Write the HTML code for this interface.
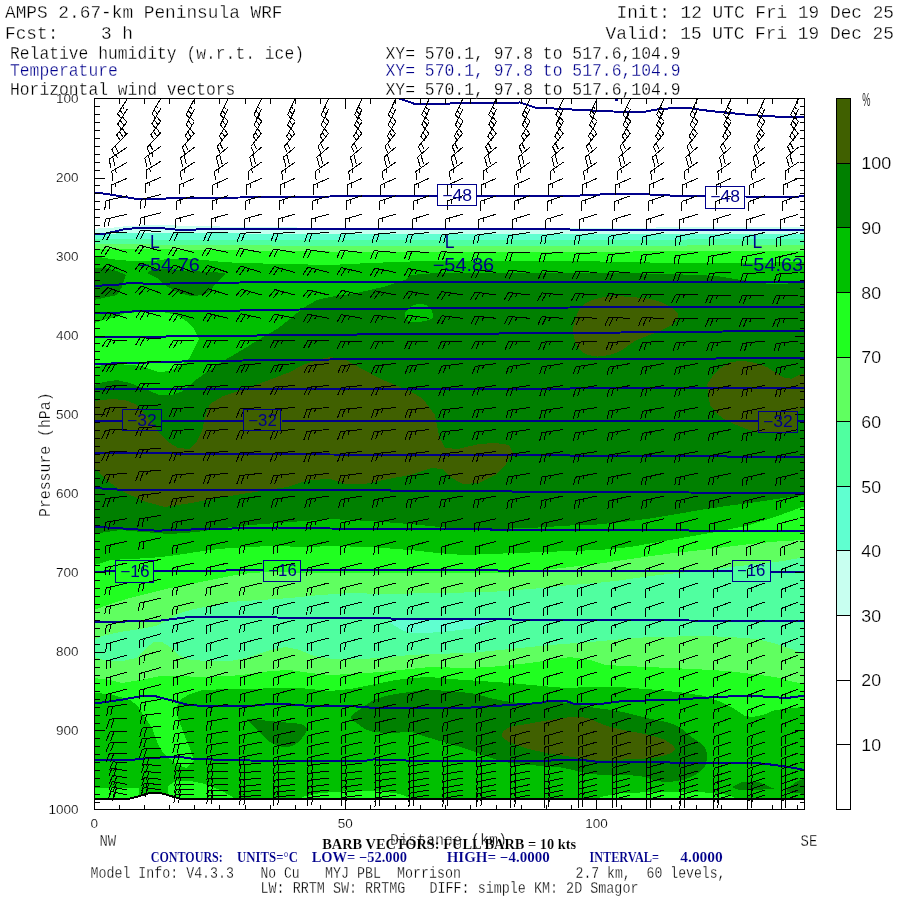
<!DOCTYPE html><html><head><meta charset="utf-8"><title>AMPS cross section</title>
<style>html,body{margin:0;padding:0;background:#fff}svg{display:block;will-change:transform}text{white-space:pre}</style></head><body>
<svg width="900" height="900" viewBox="0 0 900 900">
<rect width="900" height="900" fill="#fff"/>
<defs><clipPath id="pc"><rect x="94" y="98" width="711" height="711"/></clipPath>
<clipPath id="pt"><path d="M94.0,98.0 L94.0,798.5 L130.0,798.5 L138.0,796.5 L146.0,794.0 L152.0,792.5 L158.0,792.5 L166.0,794.5 L174.0,797.0 L180.0,798.5 L805.0,798.5 L805.0,98.0Z"/></clipPath></defs>
<g clip-path="url(#pt)" shape-rendering="crispEdges">
<path d="M94.0,228.7 L110.0,228.0 L127.0,226.0 L154.0,225.0 L200.0,226.0 L240.0,227.0 L330.0,227.8 L570.0,227.8 L805.0,227.0 L805.0,812.0 L94.0,812.0Z" fill="#c8fff0"/>
<path d="M94.0,234.5 L127.0,233.0 L154.0,233.0 L330.0,234.0 L570.0,234.0 L805.0,233.5 L805.0,812.0 L94.0,812.0Z" fill="#60ffd0"/>
<path d="M94.0,239.3 L154.0,239.5 L330.0,240.0 L570.0,240.0 L805.0,239.0 L805.0,812.0 L94.0,812.0Z" fill="#50ffa0"/>
<path d="M94.0,244.3 L154.0,244.5 L330.0,246.0 L570.0,246.0 L805.0,245.0 L805.0,812.0 L94.0,812.0Z" fill="#60ff60"/>
<path d="M94.0,640.0 L102.0,636.0 L120.0,632.0 L140.0,629.0 L156.0,626.0 L170.0,619.0 L180.0,613.0 L194.0,609.0 L210.0,606.0 L230.0,602.0 L260.0,600.0 L290.0,598.0 L320.0,595.0 L350.0,593.0 L383.0,594.0 L437.0,593.0 L490.0,592.0 L543.0,588.0 L570.0,585.0 L597.0,583.0 L623.0,580.0 L650.0,576.0 L677.0,573.0 L703.0,571.0 L730.0,567.0 L757.0,564.0 L783.0,561.0 L805.0,557.0 L805.0,652.0 L799.0,652.0 L789.0,648.0 L773.0,643.0 L757.0,639.0 L730.0,637.0 L703.0,636.0 L677.0,636.5 L650.0,637.0 L623.0,639.0 L590.0,642.0 L550.0,645.0 L510.0,649.0 L470.0,653.0 L430.0,654.0 L410.0,655.0 L380.0,658.0 L350.0,659.5 L330.0,658.5 L314.0,656.0 L300.0,650.0 L286.0,647.0 L270.0,650.0 L250.0,657.0 L230.0,661.0 L210.0,661.0 L190.0,660.0 L178.0,655.0 L170.0,647.0 L162.0,642.0 L154.0,642.0 L146.0,648.0 L136.0,658.0 L120.0,661.5 L104.0,660.0 L94.0,657.0Z" fill="#50ffa0"/>
<path d="M390.0,621.0 C392.2,619.8 402.2,620.3 410.0,620.0 C417.8,619.7 428.2,619.2 437.0,619.0 C445.8,618.8 454.2,618.7 463.0,619.0 C471.8,619.3 487.3,619.7 490.0,621.0 C492.7,622.3 485.7,625.3 479.0,627.0 C472.3,628.7 459.3,630.0 450.0,631.0 C440.7,632.0 430.2,632.8 423.0,633.0 C415.8,633.2 411.3,633.0 407.0,632.0 C402.7,631.0 399.8,628.8 397.0,627.0 C394.2,625.2 387.8,622.2 390.0,621.0Z" fill="#60ffd0"/>
<path d="M94.0,249.0 L154.0,249.3 L330.0,251.5 L570.0,251.7 L805.0,251.0 L805.0,540.0 L783.0,541.0 L750.0,544.0 L710.0,549.0 L670.0,553.5 L630.0,559.0 L600.0,563.5 L570.0,567.0 L540.0,570.5 L510.0,573.0 L450.0,572.5 L390.0,572.5 L350.0,572.5 L310.0,573.0 L270.0,572.0 L250.0,573.0 L230.0,576.0 L210.0,580.0 L190.0,584.0 L170.0,588.0 L150.0,593.0 L130.0,598.0 L110.0,604.0 L94.0,610.0Z" fill="#20ff20"/>
<path d="M94.0,678.0 L110.0,680.0 L122.0,683.0 L140.0,680.0 L160.0,676.0 L180.0,676.0 L200.0,677.0 L230.0,676.0 L250.0,674.0 L270.0,671.0 L290.0,670.0 L310.0,673.0 L330.0,675.0 L350.0,674.0 L380.0,672.0 L410.0,669.0 L430.0,667.0 L470.0,668.0 L490.0,667.0 L530.0,663.0 L570.0,657.0 L590.0,660.0 L605.0,665.0 L647.0,667.0 L693.0,669.0 L728.0,671.0 L752.0,674.0 L775.0,677.0 L794.0,682.0 L805.0,684.0 L805.0,812.0 L94.0,812.0Z" fill="#20ff20"/>
<path d="M94.0,255.7 L103.0,257.7 L120.0,260.3 L140.0,261.0 L154.0,261.0 L170.0,258.5 L190.0,258.5 L223.0,262.0 L240.0,263.0 L330.0,265.0 L370.0,263.0 L410.0,261.5 L490.0,260.5 L570.0,261.0 L600.0,261.5 L690.0,263.3 L760.0,263.0 L805.0,261.5 L805.0,506.0 L783.0,514.0 L750.0,525.0 L710.0,533.0 L670.0,540.0 L630.0,547.0 L600.0,550.0 L570.0,551.0 L543.0,552.0 L517.0,553.0 L490.0,554.0 L463.0,555.0 L437.0,553.0 L410.0,550.0 L370.0,547.0 L330.0,546.0 L310.0,547.0 L270.0,546.0 L250.0,547.0 L230.0,548.0 L210.0,550.0 L190.0,553.0 L170.0,556.0 L150.0,558.0 L130.0,559.0 L110.0,560.0 L102.0,563.0 L94.0,565.0Z" fill="#00c000"/>
<path d="M94.0,693.0 L110.0,694.0 L130.0,700.0 L138.0,706.0 L144.0,716.0 L152.0,728.0 L158.0,744.0 L164.0,754.0 L176.0,764.0 L186.0,768.0 L194.0,760.0 L190.0,748.0 L184.0,734.0 L178.0,718.0 L176.0,708.0 L180.0,700.0 L190.0,694.0 L202.0,690.0 L230.0,689.0 L250.0,689.5 L270.0,688.0 L300.0,688.0 L330.0,691.0 L350.0,689.0 L370.0,685.0 L390.0,681.0 L410.0,678.0 L430.0,677.0 L450.0,679.0 L480.0,681.0 L511.0,683.0 L542.0,686.0 L566.0,688.0 L589.0,687.0 L620.0,687.0 L658.0,690.0 L682.0,692.5 L705.0,696.0 L721.0,702.0 L733.0,708.0 L745.0,716.0 L752.0,717.0 L763.0,715.0 L775.0,710.0 L794.0,708.0 L805.0,706.5 L805.0,812.0 L94.0,812.0Z" fill="#00c000"/>
<path d="M94.0,323.0 L103.0,320.0 L117.0,317.0 L125.0,313.0 L143.0,312.0 L163.0,312.0 L177.0,315.0 L186.0,321.0 L194.0,329.0 L199.0,339.0 L194.0,349.0 L189.0,359.0 L181.0,365.0 L170.0,371.0 L159.0,372.0 L149.0,369.0 L141.0,366.0 L130.0,365.0 L117.0,364.0 L103.0,365.0 L94.0,367.0Z" fill="#20ff20"/>
<path d="M94.0,788.0 L120.0,788.0 L139.0,788.5 L139.0,800.0 L94.0,800.0Z" fill="#20ff20"/>
<path d="M168.0,786.0 L175.0,781.5 L190.0,781.0 L205.0,784.0 L220.0,790.0 L233.0,797.0 L233.0,800.0 L168.0,800.0Z" fill="#20ff20"/>
<path d="M302.0,797.0 L320.0,793.0 L350.0,791.0 L380.0,791.0 L400.0,794.0 L410.0,798.0 L302.0,800.0Z" fill="#20ff20"/>
<path d="M600.0,797.0 L620.0,793.0 L660.0,792.0 L700.0,792.0 L730.0,795.0 L735.0,798.0 L600.0,800.0Z" fill="#20ff20"/>
<path d="M94.0,385.0 L103.0,382.0 L117.0,380.0 L130.0,383.0 L143.0,388.0 L150.0,391.0 L159.0,395.0 L170.0,395.5 L181.0,392.0 L189.0,386.0 L197.0,379.0 L210.0,370.0 L223.0,361.0 L237.0,353.0 L250.0,345.0 L263.0,337.0 L277.0,329.0 L290.0,319.0 L303.0,308.0 L317.0,300.0 L330.0,297.0 L357.0,293.0 L383.0,287.0 L405.0,280.0 L410.0,275.0 L437.0,273.0 L490.0,273.0 L570.0,273.0 L623.0,273.0 L690.0,274.7 L717.0,276.0 L737.0,279.3 L770.0,284.0 L805.0,283.0 L805.0,495.0 L783.0,498.0 L757.0,502.0 L730.0,505.5 L703.0,509.5 L677.0,514.0 L650.0,518.5 L623.0,522.0 L597.0,524.5 L570.0,525.5 L530.0,528.0 L490.0,529.0 L450.0,528.0 L410.0,524.0 L370.0,521.0 L330.0,519.0 L303.0,521.0 L277.0,523.0 L250.0,525.0 L223.0,528.0 L197.0,532.0 L170.0,534.0 L143.0,532.0 L120.0,530.0 L106.0,532.0 L94.0,534.0Z" fill="#008000"/>
<path d="M94.0,267.7 L106.0,268.3 L117.0,271.0 L126.0,275.0 L122.0,287.0 L117.0,295.0 L103.0,298.0 L94.0,300.0Z" fill="#008000"/>
<path d="M147.5,272.5 C148.0,271.0 152.9,269.2 160.0,269.0 C167.1,268.8 179.5,270.3 190.0,271.0 C200.5,271.7 217.7,272.0 223.0,273.0 C228.3,274.0 223.7,274.7 222.0,277.0 C220.3,279.3 215.5,284.3 213.0,287.0 C210.5,289.7 210.3,291.5 207.0,293.0 C203.7,294.5 197.5,296.0 193.0,296.0 C188.5,296.0 184.2,294.5 180.0,293.0 C175.8,291.5 171.8,289.5 168.0,287.0 C164.2,284.5 160.4,280.4 157.0,278.0 C153.6,275.6 147.0,274.0 147.5,272.5Z" fill="#008000"/>
<path d="M405.0,313.0 C406.0,310.8 409.2,307.5 412.0,306.0 C414.8,304.5 419.0,303.7 422.0,304.0 C425.0,304.3 428.2,305.8 430.0,308.0 C431.8,310.2 433.8,314.8 433.0,317.0 C432.2,319.2 428.5,320.2 425.0,321.0 C421.5,321.8 415.2,322.3 412.0,322.0 C408.8,321.7 407.2,320.5 406.0,319.0 C404.8,317.5 404.0,315.2 405.0,313.0Z" fill="#00c000"/>
<path d="M248.0,719.0 C249.7,718.7 254.7,719.5 260.0,720.0 C265.3,720.5 273.3,721.3 280.0,722.0 C286.7,722.7 295.5,722.8 300.0,724.0 C304.5,725.2 306.7,726.7 307.0,729.0 C307.3,731.3 304.2,735.3 302.0,738.0 C299.8,740.7 297.0,743.5 294.0,745.0 C291.0,746.5 288.0,747.5 284.0,747.0 C280.0,746.5 274.0,744.5 270.0,742.0 C266.0,739.5 263.3,735.3 260.0,732.0 C256.7,728.7 252.0,724.2 250.0,722.0 C248.0,719.8 246.3,719.3 248.0,719.0Z" fill="#008000"/>
<path d="M351.0,717.0 C351.7,714.3 358.2,710.8 362.0,708.0 C365.8,705.2 369.3,702.2 374.0,700.0 C378.7,697.8 384.0,696.3 390.0,695.0 C396.0,693.7 403.3,692.8 410.0,692.0 C416.7,691.2 420.0,689.8 430.0,690.0 C440.0,690.2 460.0,691.7 470.0,693.0 C480.0,694.3 483.2,696.5 490.0,698.0 C496.8,699.5 504.8,701.1 511.0,702.0 C517.2,702.9 521.8,703.5 527.0,703.5 C532.2,703.5 536.8,702.2 542.0,702.0 C547.2,701.8 552.8,701.7 558.0,702.0 C563.2,702.3 567.8,703.2 573.0,704.0 C578.2,704.8 583.8,706.2 589.0,707.0 C594.2,707.8 598.3,708.2 604.0,709.0 C609.7,709.8 615.8,710.5 623.0,712.0 C630.2,713.5 639.2,716.2 647.0,718.0 C654.8,719.8 664.2,721.2 670.0,723.0 C675.8,724.8 678.2,726.5 682.0,729.0 C685.8,731.5 689.5,735.3 693.0,738.0 C696.5,740.7 700.7,742.3 703.0,745.0 C705.3,747.7 706.7,750.5 707.0,754.0 C707.3,757.5 706.5,762.8 705.0,766.0 C703.5,769.2 700.7,771.0 698.0,773.0 C695.3,775.0 692.5,776.7 689.0,778.0 C685.5,779.3 681.0,780.3 677.0,781.0 C673.0,781.7 668.8,782.2 665.0,782.0 C661.2,781.8 657.8,780.9 654.0,780.0 C650.2,779.1 647.2,777.3 642.0,776.5 C636.8,775.7 629.3,775.2 623.0,775.0 C616.7,774.8 609.7,775.2 604.0,775.0 C598.3,774.8 594.2,774.3 589.0,773.5 C583.8,772.7 578.2,771.1 573.0,770.0 C567.8,768.9 563.2,767.7 558.0,767.0 C552.8,766.3 549.8,766.7 542.0,766.0 C534.2,765.3 518.7,764.1 511.0,763.0 C503.3,761.9 501.2,761.0 496.0,759.5 C490.8,758.0 484.3,755.6 480.0,754.0 C475.7,752.4 475.0,751.7 470.0,750.0 C465.0,748.3 456.7,746.0 450.0,744.0 C443.3,742.0 435.0,739.5 430.0,738.0 C425.0,736.5 423.3,736.0 420.0,735.0 C416.7,734.0 415.0,732.3 410.0,732.0 C405.0,731.7 396.7,733.2 390.0,733.0 C383.3,732.8 375.3,732.5 370.0,731.0 C364.7,729.5 361.2,726.3 358.0,724.0 C354.8,721.7 350.3,719.7 351.0,717.0Z" fill="#008000"/>
<path d="M732.0,787.0 L742.0,782.0 L759.0,782.0 L768.0,786.0 L775.0,789.0 L740.0,790.5Z" fill="#008000"/>
<path d="M787.0,789.0 L796.0,782.0 L805.0,778.0 L805.0,794.0 L787.0,792.0Z" fill="#008000"/>
<path d="M94.0,401.0 L111.0,399.0 L125.0,400.0 L135.0,404.0 L143.0,412.0 L154.0,425.0 L159.0,433.0 L167.0,441.0 L178.0,448.0 L189.0,449.0 L197.0,441.0 L202.0,431.0 L205.0,417.0 L210.0,404.0 L223.0,396.0 L239.0,391.0 L261.0,383.0 L277.0,377.0 L290.0,372.0 L303.0,365.0 L317.0,360.0 L330.0,357.0 L346.0,360.0 L362.0,369.0 L383.0,380.0 L410.0,391.0 L423.0,399.0 L435.0,415.0 L438.0,431.0 L441.0,440.0 L445.0,448.0 L458.0,449.0 L479.0,444.0 L495.0,443.0 L509.0,445.0 L513.0,453.0 L506.0,464.0 L495.0,475.0 L479.0,483.0 L463.0,484.0 L450.0,477.0 L442.0,469.0 L431.0,468.0 L410.0,475.0 L383.0,480.0 L365.0,484.0 L346.0,484.0 L330.0,479.0 L309.0,480.0 L287.0,487.0 L255.0,492.0 L223.0,497.0 L191.0,503.0 L165.0,507.0 L143.0,501.0 L122.0,491.0 L106.0,480.0 L94.0,467.0Z" fill="#406000"/>
<path d="M574.0,324.0 C575.5,318.7 577.8,309.5 583.0,305.0 C588.2,300.5 597.0,298.3 605.0,297.0 C613.0,295.7 622.2,296.3 631.0,297.0 C639.8,297.7 650.3,298.5 658.0,301.0 C665.7,303.5 674.3,308.3 677.0,312.0 C679.7,315.7 677.2,319.7 674.0,323.0 C670.8,326.3 664.2,329.2 658.0,332.0 C651.8,334.8 643.7,336.7 637.0,340.0 C630.3,343.3 624.7,349.2 618.0,352.0 C611.3,354.8 603.2,356.7 597.0,356.5 C590.8,356.3 584.8,354.2 581.0,351.0 C577.2,347.8 575.2,341.5 574.0,337.0 C572.8,332.5 572.5,329.3 574.0,324.0Z" fill="#406000"/>
<path d="M707.3,384.0 L712.7,376.0 L720.7,368.0 L731.3,362.0 L743.3,360.7 L756.7,363.3 L767.3,367.3 L776.7,373.3 L783.3,377.3 L791.3,378.7 L799.3,374.7 L805.0,374.0 L805.0,406.7 L799.3,410.7 L796.7,414.7 L796.7,430.7 L791.3,432.0 L776.7,432.7 L759.3,432.0 L747.3,429.3 L734.0,424.0 L723.3,418.7 L716.7,413.3 L710.0,405.3 L708.7,396.0Z" fill="#406000"/>
<path d="M502.0,737.0 C500.2,734.0 503.8,730.2 508.0,728.0 C512.2,725.8 520.0,725.3 527.0,724.0 C534.0,722.7 542.3,721.2 550.0,720.0 C557.7,718.8 566.5,717.2 573.0,717.0 C579.5,716.8 583.8,717.2 589.0,718.5 C594.2,719.8 598.3,723.1 604.0,725.0 C609.7,726.9 615.8,728.4 623.0,730.0 C630.2,731.6 640.0,732.8 647.0,734.5 C654.0,736.2 660.3,737.4 665.0,740.0 C669.7,742.6 676.2,747.2 675.0,750.0 C673.8,752.8 664.7,755.5 658.0,757.0 C651.3,758.5 644.0,758.5 635.0,759.0 C626.0,759.5 611.7,759.9 604.0,760.0 C596.3,760.1 594.2,760.0 589.0,759.5 C583.8,759.0 578.2,757.8 573.0,757.0 C567.8,756.2 563.2,755.8 558.0,755.0 C552.8,754.2 548.5,753.5 542.0,752.0 C535.5,750.5 525.7,748.5 519.0,746.0 C512.3,743.5 503.8,740.0 502.0,737.0Z" fill="#406000"/>
</g>
<g clip-path="url(#pc)" fill="none" stroke="#00008b" stroke-width="2" shape-rendering="crispEdges">
<path d="M614.5,99.5 L618.0,99.5"/>
<path d="M395.0,97.0 L415.0,104.0 L520.0,102.5 L535.0,107.5 L600.0,111.0 L640.0,112.5 L660.0,109.0 L685.0,107.5 L710.0,111.0 L750.0,115.0 L775.0,116.5 L805.0,116.5"/>
<path d="M94.0,192.5 L107.0,194.0 L123.0,196.7 L135.0,198.7 L157.0,198.7 L190.0,198.0 L240.0,197.5 L330.0,196.5 L390.0,196.0 L437.0,196.0"/>
<path d="M476.0,196.0 L560.0,196.5 L600.0,194.5 L640.0,194.0 L680.0,196.0 L705.0,196.5"/>
<path d="M744.0,196.5 L790.0,196.8 L805.0,196.3"/>
<path d="M94.0,234.0 L104.0,234.0 L114.0,231.7 L124.0,229.3 L140.7,227.7 L160.0,228.0 L177.0,229.7 L207.0,229.4 L240.0,229.0 L330.0,229.0 L570.0,229.5 L805.0,229.5"/>
<path d="M94.0,285.8 L115.0,285.0 L128.0,283.3 L157.0,283.7 L240.0,282.5 L330.0,282.0 L570.0,281.7 L805.0,281.7"/>
<path d="M94.0,313.3 L120.0,312.5 L140.0,310.8 L240.0,310.5 L330.0,309.0 L570.0,307.5 L805.0,306.7"/>
<path d="M94.0,337.3 L330.0,334.7 L570.0,333.0 L805.0,330.7"/>
<path d="M94.0,364.0 L200.0,361.0 L330.0,359.5 L570.0,359.0 L700.0,358.7 L805.0,357.5"/>
<path d="M94.0,389.0 L330.0,388.5 L570.0,388.5 L805.0,387.5"/>
<path d="M94.0,420.5 L122.0,420.5"/>
<path d="M161.0,420.5 L244.0,420.5"/>
<path d="M282.0,420.5 L570.0,420.5 L758.0,421.0"/>
<path d="M797.0,421.0 L805.0,421.0"/>
<path d="M94.0,453.0 L330.0,454.5 L570.0,455.5 L805.0,457.0"/>
<path d="M94.0,488.0 L125.0,490.0 L330.0,490.0 L570.0,492.0 L805.0,493.0"/>
<path d="M94.0,526.7 L157.0,530.7 L197.0,529.3 L277.0,527.5 L330.0,528.5 L570.0,530.0 L805.0,531.0"/>
<path d="M94.0,572.0 L115.0,571.0"/>
<path d="M153.5,571.5 L263.0,570.0"/>
<path d="M300.7,570.0 L570.0,570.7 L732.0,571.5"/>
<path d="M769.5,572.0 L805.0,572.0"/>
<path d="M94.0,622.0 L157.0,621.0 L189.0,617.0 L223.0,617.0 L330.0,618.0 L570.0,620.0 L805.0,621.0"/>
<path d="M94.0,703.6 L120.0,700.0 L142.0,696.0 L156.0,696.4 L170.0,700.0 L186.0,704.4 L206.0,706.4 L250.0,706.0 L270.0,704.0 L290.0,704.4 L310.0,706.0 L350.0,706.0 L370.0,707.6 L430.0,708.0 L470.0,707.6 L510.0,705.0 L540.0,703.0 L550.0,700.6 L566.0,701.0 L576.0,704.4 L600.0,704.0 L623.0,701.0 L670.0,700.0 L717.0,697.0 L740.0,696.0 L763.0,696.5 L787.0,698.0 L805.0,695.5"/>
<path d="M94.0,760.0 L130.0,760.0 L150.0,758.0 L178.0,756.6 L194.0,759.0 L250.0,760.5 L300.0,761.4 L330.0,760.6 L366.0,760.6 L374.0,759.4 L382.0,760.0 L430.0,761.0 L550.0,760.6 L560.0,759.6 L580.0,759.6 L590.0,761.0 L600.0,762.0 L670.0,762.5 L752.0,762.5 L775.0,765.0 L794.0,768.0 L805.0,770.0"/>
</g>
<g clip-path="url(#pc)" fill="none" stroke="#000" stroke-width="1" shape-rendering="crispEdges">
<path d="M127.3,98.9L117.6,113.9M117.6,113.9l4.0,5.0M120.0,110.2l4.0,5.0M122.4,106.5l1.8,2.2M127.3,109.1L117.6,124.1M117.6,124.1l4.0,5.0M120.0,120.4l4.0,5.0M122.4,116.7l4.0,5.0M127.3,121.7L116.6,135.0M116.6,135.0l3.7,5.5M119.4,131.6l3.7,5.5M122.1,128.1l3.7,5.5M127.3,133.3L111.9,149.3M111.9,149.3l2.7,5.7M115.0,146.1l2.7,5.7M127.3,147.2L109.0,159.4M109.0,159.4l2.2,9.0M112.7,157.0l2.2,9.0M116.3,154.5l1.0,4.0M127.3,162.2L111.8,171.1M111.8,171.1l1.0,9.4M115.6,168.9l0.5,4.2M127.3,178.3L111.3,185.0M111.3,185.0l0.0,9.0M115.4,183.3l0.0,4.0M127.3,195.8L105.6,200.8M105.6,200.8l-0.8,9.2M109.9,199.8l-0.8,9.2M127.3,214.2L105.6,219.2M105.6,219.2l-1.7,8.0M109.9,218.2l-1.7,8.0M127.3,232.5L106.5,232.0M106.5,232.0l-4.2,8.0M110.9,232.1l-4.2,8.0M127.3,252.5L106.0,246.2M106.0,246.2l-5.0,7.3M110.2,247.4l-5.0,7.3M127.3,272.5L107.0,264.0M107.0,264.0l-6.0,7.3M111.1,265.7l-6.0,7.3M115.1,267.4l-2.7,3.3M127.3,295.0L108.1,287.5M108.1,287.5l-6.7,6.7M112.2,289.1l-6.7,6.7M116.3,290.7l-3.0,3.0M127.3,318.3L107.3,312.3M107.3,312.3l-5.0,7.5M111.5,313.6l-5.0,7.5M115.7,314.8l-2.2,3.4M127.3,341.0L106.6,339.7M106.6,339.7l-4.5,7.3M111.0,340.0l-4.5,7.3M115.4,340.3l-2.0,3.3M127.3,363.5L106.6,364.5M106.6,364.5l-4.6,7.6M111.0,364.3l-4.6,7.6M115.4,364.1l-4.6,7.6M127.3,385.5L106.6,386.2M106.6,386.2l-4.7,8.0M111.0,386.1l-4.7,8.0M115.4,385.9l-2.1,3.6M127.3,407.5L105.6,408.1M105.6,408.1l-3.9,8.9M110.0,408.0l-3.9,8.9M114.4,407.9l-1.8,4.0M127.3,429.5L105.6,430.1M105.6,430.1l-3.9,8.9M110.0,430.0l-3.9,8.9M114.4,429.9l-1.8,4.0M127.3,451.5L105.6,452.1M105.6,452.1l-3.9,8.9M110.0,452.0l-3.9,8.9M114.4,451.9l-1.8,4.0M127.3,473.3L105.6,474.8M105.6,474.8l-3.5,8.9M110.0,474.5l-3.5,8.9M114.4,474.2l-1.6,4.0M127.3,496.0L105.8,498.5M105.8,498.5l-3.0,8.7M110.2,498.0l-3.0,8.7M114.5,497.5l-1.4,3.9M127.3,518.7L106.0,522.2M106.0,522.2l-2.0,8.5M110.3,521.5l-2.0,8.5M114.7,520.8l-0.9,3.8M127.3,541.3L106.0,545.8M106.0,545.8l-1.0,8.0M110.3,544.9l-1.0,8.0M127.3,563.0L106.0,567.5M106.0,567.5l-1.0,8.0M110.3,566.6l-1.0,8.0M127.3,583.0L106.3,588.0M106.3,588.0l-1.5,7.5M110.6,587.0l-1.5,7.5M127.3,602.0L106.3,607.0M106.3,607.0l-1.5,7.5M110.6,606.0l-1.5,7.5M127.3,620.0L106.3,625.5M106.3,625.5l-1.0,8.0M110.6,624.4l-1.0,8.0M127.3,638.0L106.3,644.0M106.3,644.0l-0.5,8.0M110.5,642.8l-0.5,8.0M127.3,655.0L106.3,661.0M106.3,661.0l0.0,8.0M110.5,659.8l0.0,8.0M127.3,672.0L106.3,678.0M106.3,678.0l0.0,8.0M110.5,676.8l0.0,8.0M127.3,689.0L106.3,694.5M106.3,694.5l-0.5,8.5M110.6,693.4l-0.5,8.5M127.3,704.0L108.3,707.0M108.3,707.0l-1.8,9.2M112.6,706.3l-1.8,9.2M127.3,718.0L109.6,719.2M109.6,719.2l-3.0,9.5M114.0,718.9l-3.0,9.5M127.3,731.0L109.6,732.0M109.6,732.0l-3.3,9.3M114.0,731.8l-3.3,9.3M127.3,742.0L109.6,742.6M109.6,742.6l-3.5,9.0M114.0,742.5l-3.5,9.0M127.3,753.0L109.6,753.0M109.6,753.0l-3.5,9.0M114.0,753.0l-3.5,9.0M127.3,763.0L112.8,761.8M112.8,761.8l-3.4,8.6M117.2,762.2l-3.4,8.6M127.3,771.0L112.0,768.0M112.0,768.0l-3.3,8.5M116.3,768.8l-3.3,8.5M127.3,778.0L112.6,775.4M112.6,775.4l-3.3,8.5M116.9,776.2l-3.3,8.5M127.3,784.5L112.3,781.5M112.3,781.5l-3.3,8.5M116.6,782.4l-3.3,8.5M127.3,790.0L112.3,787.0M112.3,787.0l-3.3,8.5M116.6,787.9l-3.3,8.5M127.3,795.0L111.3,791.5M111.3,791.5l-3.3,8.5M115.6,792.4l-3.3,8.5M160.8,98.4L151.9,113.7M151.9,113.7l4.0,4.8M154.1,109.9l4.0,4.8M156.3,106.1l1.8,2.2M160.8,108.5L151.9,123.8M151.9,123.8l4.0,4.8M154.1,120.0l4.0,4.8M156.3,116.2l4.0,4.8M160.8,121.1L150.9,134.8M150.9,134.8l3.7,5.3M153.5,131.2l3.7,5.3M156.1,127.6l3.7,5.3M160.8,132.6L147.0,147.7M147.0,147.7l2.8,5.8M150.0,144.4l2.8,5.8M160.8,146.4L144.8,157.8M144.8,157.8l2.3,9.2M148.3,155.3l2.3,9.2M151.9,152.7l1.0,4.1M160.8,161.3L146.1,170.3M146.1,170.3l0.9,9.1M149.8,168.0l0.4,4.1M160.8,177.3L145.2,184.0M145.2,184.0l0.0,9.2M149.2,182.2l0.0,4.1M160.8,194.6L141.1,199.6M141.1,199.6l-0.5,9.3M145.4,198.6l-0.5,9.3M160.8,212.9L140.8,217.8M140.8,217.8l-1.1,8.5M145.1,216.7l-1.1,8.5M160.8,231.1L140.0,230.9M140.0,230.9l-4.0,8.0M144.4,230.9l-4.0,8.0M160.8,251.0L139.5,245.2M139.5,245.2l-4.8,7.4M143.7,246.4l-4.8,7.4M160.8,270.8L140.5,262.8M140.5,262.8l-5.8,7.3M144.6,264.4l-5.8,7.3M148.7,266.0l-2.6,3.3M160.8,293.2L141.5,286.1M141.5,286.1l-6.5,6.8M145.6,287.6l-6.5,6.8M149.7,289.1l-2.9,3.1M160.8,316.3L140.7,310.6M140.7,310.6l-4.9,7.5M145.0,311.8l-4.9,7.5M149.2,313.0l-2.2,3.4M160.8,338.8L140.1,337.7M140.1,337.7l-4.4,7.3M144.5,338.0l-4.4,7.3M148.9,338.2l-2.0,3.3M160.8,361.2L140.1,362.4M140.1,362.4l-4.4,7.6M144.5,362.1l-4.4,7.6M148.9,361.9l-4.4,7.6M160.8,383.0L140.1,383.9M140.1,383.9l-4.5,8.0M144.5,383.7l-4.5,8.0M148.9,383.6l-2.0,3.6M160.8,404.9L139.2,405.7M139.2,405.7l-3.8,8.8M143.6,405.5l-3.8,8.8M148.0,405.4l-1.7,4.0M160.8,426.7L139.2,427.5M139.2,427.5l-3.8,8.8M143.6,427.4l-3.8,8.8M148.0,427.2l-1.7,4.0M160.8,448.6L139.2,449.4M139.2,449.4l-3.8,8.8M143.6,449.2l-3.8,8.8M148.0,449.1l-1.7,4.0M160.8,470.2L139.2,471.9M139.2,471.9l-3.4,8.8M143.5,471.6l-3.4,8.8M147.9,471.2l-1.5,4.0M160.8,492.8L139.3,495.4M139.3,495.4l-2.9,8.7M143.7,494.9l-2.9,8.7M148.1,494.4l-1.3,3.9M160.8,515.3L139.5,518.9M139.5,518.9l-1.9,8.5M143.9,518.2l-1.9,8.5M148.2,517.5l-0.9,3.8M160.8,537.8L139.6,542.4M139.6,542.4l-1.0,8.0M143.9,541.4l-1.0,8.0M160.8,559.3L139.6,563.9M139.6,563.9l-1.0,8.0M143.9,563.0l-1.0,8.0M160.8,579.2L139.8,584.2M139.8,584.2l-1.4,7.5M144.1,583.2l-1.4,7.5M160.8,598.1L139.8,603.1M139.8,603.1l-1.4,7.5M144.1,602.1l-1.4,7.5M160.8,615.9L139.8,621.4M139.8,621.4l-1.0,8.0M144.1,620.3l-1.0,8.0M160.8,633.8L139.8,639.8M139.8,639.8l-0.5,8.0M144.1,638.6l-0.5,8.0M160.8,650.7L139.8,656.6M139.8,656.6l-0.1,8.0M144.1,655.4l-0.1,8.0M160.8,667.6L139.8,673.5M139.8,673.5l-0.1,8.0M144.1,672.3l-0.1,8.0M160.8,684.5L139.8,690.0M139.8,690.0l-0.5,8.5M144.1,688.8l-0.5,8.5M160.8,699.4L141.2,702.7M141.2,702.7l-1.5,9.0M145.6,702.0l-1.5,9.0M160.8,713.3L142.2,715.3M142.2,715.3l-2.4,9.2M146.6,714.8l-2.4,9.2M160.8,726.2L142.2,728.1M142.2,728.1l-2.6,9.1M146.6,727.6l-2.6,9.1M160.8,737.1L142.2,738.7M142.2,738.7l-2.8,8.9M146.6,738.3l-2.8,8.9M160.8,748.0L142.2,749.1M142.2,749.1l-2.8,8.9M146.6,748.9l-2.8,8.9M160.8,758.0L144.7,757.6M144.7,757.6l-2.8,8.6M149.1,757.7l-2.8,8.6M160.8,765.9L144.1,764.2M144.1,764.2l-2.7,8.5M148.5,764.6l-2.7,8.5M160.8,772.9L144.6,771.4M144.6,771.4l-2.7,8.5M149.0,771.8l-2.7,8.5M160.8,779.3L144.3,777.6M144.3,777.6l-2.7,8.5M148.7,778.0l-2.7,8.5M160.8,784.8L144.3,783.0M144.3,783.0l-2.7,8.5M148.7,783.5l-2.7,8.5M160.8,789.7L143.6,787.6M143.6,787.6l-2.7,8.5M148.0,788.1l-2.7,8.5M194.4,98.9L186.2,114.4M186.2,114.4l4.0,4.7M188.2,110.5l4.0,4.7M190.3,106.7l1.8,2.1M194.4,109.1L186.2,124.6M186.2,124.6l4.0,4.7M188.2,120.7l4.0,4.7M190.3,116.9l4.0,4.7M194.4,121.7L185.2,135.8M185.2,135.8l3.7,5.2M187.6,132.1l3.7,5.2M190.0,128.4l3.7,5.2M194.4,133.3L182.1,147.5M182.1,147.5l2.9,5.9M185.0,144.2l2.9,5.9M194.4,147.2L180.5,157.9M180.5,157.9l2.4,9.3M184.0,155.2l2.4,9.3M194.4,162.2L180.4,171.3M180.4,171.3l0.9,8.8M184.1,168.9l0.4,4.0M194.4,178.3L179.1,185.0M179.1,185.0l0.0,9.3M183.1,183.2l0.0,4.2M194.4,195.8L176.6,200.8M176.6,200.8l-0.3,9.4M180.9,199.6l-0.1,4.2M194.4,214.2L176.0,218.9M176.0,218.9l-0.6,9.0M180.3,217.8l-0.3,4.0M194.4,232.5L173.5,232.6M173.5,232.6l-3.8,8.1M177.9,232.6l-3.8,8.1M194.4,252.5L173.0,247.3M173.0,247.3l-4.6,7.5M177.3,248.4l-4.6,7.5M194.4,272.5L174.0,265.0M174.0,265.0l-5.7,7.4M178.1,266.5l-5.7,7.4M182.2,268.0l-2.5,3.3M194.4,295.0L174.9,288.3M174.9,288.3l-6.4,6.9M179.0,289.8l-6.4,6.9M183.2,291.2l-2.9,3.1M194.4,318.3L174.1,313.0M174.1,313.0l-4.8,7.6M178.4,314.1l-4.8,7.6M182.7,315.2l-2.2,3.4M194.4,341.0L173.6,340.1M173.6,340.1l-4.3,7.4M178.0,340.3l-4.3,7.4M182.4,340.5l-1.9,3.3M194.4,363.5L173.6,364.9M173.6,364.9l-4.3,7.6M178.0,364.6l-4.3,7.6M182.4,364.3l-4.3,7.6M194.4,385.5L173.6,386.6M173.6,386.6l-4.4,8.0M178.0,386.4l-4.4,8.0M182.4,386.1l-2.0,3.6M194.4,407.5L172.7,408.5M172.7,408.5l-3.6,8.8M177.1,408.3l-3.6,8.8M181.5,408.1l-1.6,3.9M194.4,429.5L172.7,430.5M172.7,430.5l-3.6,8.8M177.1,430.3l-3.6,8.8M181.5,430.1l-1.6,3.9M194.4,451.5L172.7,452.5M172.7,452.5l-3.6,8.8M177.1,452.3l-3.6,8.8M181.5,452.1l-1.6,3.9M194.4,473.3L172.7,475.2M172.7,475.2l-3.2,8.8M177.1,474.8l-3.2,8.8M181.5,474.4l-1.5,3.9M194.4,496.0L172.9,498.8M172.9,498.8l-2.8,8.6M177.3,498.2l-2.8,8.6M181.6,497.7l-1.2,3.9M194.4,518.7L173.1,522.4M173.1,522.4l-1.8,8.5M177.4,521.6l-1.8,8.5M181.8,520.9l-0.8,3.8M194.4,541.3L173.1,546.0M173.1,546.0l-0.9,8.0M177.4,545.1l-0.9,8.0M194.4,563.0L173.1,567.7M173.1,567.7l-0.9,8.0M177.4,566.8l-0.9,8.0M194.4,583.0L173.4,588.1M173.4,588.1l-1.3,7.6M177.6,587.1l-1.3,7.6M194.4,602.0L173.4,607.1M173.4,607.1l-1.3,7.6M177.6,606.1l-1.3,7.6M194.4,620.0L173.4,625.5M173.4,625.5l-0.9,8.0M177.6,624.4l-0.9,8.0M194.4,638.0L173.4,643.9M173.4,643.9l-0.5,8.0M177.6,642.7l-0.5,8.0M194.4,655.0L173.4,660.9M173.4,660.9l-0.1,8.0M177.6,659.7l-0.1,8.0M194.4,672.0L173.4,677.9M173.4,677.9l-0.1,8.0M177.6,676.7l-0.1,8.0M194.4,689.0L173.4,694.5M173.4,694.5l-0.5,8.4M177.6,693.4l-0.5,8.4M194.4,704.0L174.1,707.8M174.1,707.8l-1.1,8.8M178.5,706.9l-1.1,8.8M194.4,718.0L174.8,720.9M174.8,720.9l-1.8,9.0M179.2,720.2l-1.8,9.0M194.4,731.0L174.8,733.8M174.8,733.8l-1.9,8.9M179.2,733.1l-1.9,8.9M194.4,742.0L174.8,744.5M174.8,744.5l-2.0,8.8M179.2,744.0l-2.0,8.8M194.4,753.0L174.8,755.2M174.8,755.2l-2.0,8.8M179.2,754.7l-2.0,8.8M194.4,763.0L176.6,763.4M176.6,763.4l-2.2,8.6M181.0,763.3l-2.2,8.6M194.4,771.0L176.2,770.5M176.2,770.5l-2.1,8.5M180.6,770.6l-2.1,8.5M194.4,778.0L176.5,777.7M176.5,777.7l-2.1,8.5M180.9,777.8l-2.1,8.5M194.4,784.5L176.4,784.0M176.4,784.0l-2.1,8.5M180.8,784.1l-2.1,8.5M194.4,790.0L176.4,789.5M176.4,789.5l-2.1,8.5M180.8,789.6l-2.1,8.5M194.4,795.0L175.9,794.2M175.9,794.2l-2.1,8.5M180.3,794.4l-2.1,8.5M227.9,98.9L220.4,114.7M220.4,114.7l4.0,4.5M222.3,110.7l4.0,4.5M224.2,106.8l1.8,2.0M227.9,109.1L220.4,124.9M220.4,124.9l4.0,4.5M222.3,120.9l4.0,4.5M224.2,117.0l4.0,4.5M227.9,121.7L219.4,136.2M219.4,136.2l3.7,5.0M221.7,132.4l3.7,5.0M223.9,128.6l3.7,5.0M227.9,133.3L217.1,146.6M217.1,146.6l3.0,6.0M219.9,143.2l3.0,6.0M227.9,147.2L216.2,157.2M216.2,157.2l2.5,9.5M219.6,154.3l2.5,9.5M227.9,162.2L214.6,171.4M214.6,171.4l0.8,8.5M218.3,168.9l0.4,3.8M227.9,178.3L212.9,185.0M212.9,185.0l0.0,9.5M217.0,183.2l0.0,4.3M227.9,195.8L212.1,200.8M212.1,200.8l0.0,9.5M216.3,199.5l0.0,4.3M227.9,214.2L211.2,218.7M211.2,218.7l0.0,9.5M215.5,217.6l0.0,4.3M227.9,232.5L207.0,232.9M207.0,232.9l-3.6,8.2M211.4,232.8l-3.6,8.2M227.9,252.5L206.5,247.9M206.5,247.9l-4.4,7.6M210.8,248.8l-4.4,7.6M227.9,272.5L207.4,265.5M207.4,265.5l-5.5,7.5M211.6,266.9l-5.5,7.5M215.8,268.4l-2.5,3.4M227.9,295.0L208.3,288.7M208.3,288.7l-6.2,6.9M212.4,290.1l-6.2,6.9M216.6,291.4l-2.8,3.1M227.9,318.3L207.6,313.3M207.6,313.3l-4.7,7.6M211.8,314.4l-4.7,7.6M216.1,315.4l-2.1,3.4M227.9,341.0L207.1,340.3M207.1,340.3l-4.2,7.4M211.5,340.4l-4.2,7.4M215.8,340.6l-1.9,3.3M227.9,363.5L207.1,365.0M207.1,365.0l-4.1,7.6M211.5,364.7l-4.1,7.6M215.9,364.4l-4.1,7.6M227.9,385.5L207.1,386.8M207.1,386.8l-4.2,7.9M211.5,386.5l-4.2,7.9M215.9,386.2l-1.9,3.6M227.9,407.5L206.3,408.7M206.3,408.7l-3.5,8.7M210.7,408.4l-3.5,8.7M215.1,408.2l-1.6,3.9M227.9,429.5L206.3,430.7M206.3,430.7l-3.5,8.7M210.7,430.4l-3.5,8.7M215.1,430.2l-1.6,3.9M227.9,451.5L206.3,452.7M206.3,452.7l-3.5,8.7M210.7,452.4l-3.5,8.7M215.1,452.2l-1.6,3.9M227.9,473.3L206.3,475.3M206.3,475.3l-3.1,8.7M210.7,474.9l-3.1,8.7M215.0,474.5l-1.4,3.9M227.9,496.0L206.4,498.9M206.4,498.9l-2.6,8.6M210.8,498.4l-2.6,8.6M215.2,497.8l-1.2,3.9M227.9,518.7L206.6,522.5M206.6,522.5l-1.7,8.4M211.0,521.7l-1.7,8.4M215.3,521.0l-0.8,3.8M227.9,541.3L206.7,546.1M206.7,546.1l-0.8,8.0M211.0,545.1l-0.8,8.0M227.9,563.0L206.7,567.8M206.7,567.8l-0.8,8.0M211.0,566.8l-0.8,8.0M227.9,583.0L206.9,588.1M206.9,588.1l-1.2,7.7M211.2,587.1l-1.2,7.7M227.9,602.0L206.9,607.1M206.9,607.1l-1.2,7.7M211.2,606.1l-1.2,7.7M227.9,620.0L206.9,625.5M206.9,625.5l-0.8,8.0M211.1,624.4l-0.8,8.0M227.9,638.0L206.9,643.9M206.9,643.9l-0.5,8.0M211.1,642.7l-0.5,8.0M227.9,655.0L206.9,660.9M206.9,660.9l-0.1,8.0M211.1,659.7l-0.1,8.0M227.9,672.0L206.9,677.9M206.9,677.9l-0.1,8.0M211.1,676.7l-0.1,8.0M227.9,689.0L206.9,694.5M206.9,694.5l-0.5,8.3M211.1,693.4l-0.5,8.3M227.9,704.0L207.1,708.1M207.1,708.1l-0.8,8.7M211.4,707.3l-0.8,8.7M227.9,718.0L207.4,721.7M207.4,721.7l-1.1,8.8M211.7,720.9l-1.1,8.8M227.9,731.0L207.4,734.6M207.4,734.6l-1.2,8.7M211.7,733.9l-1.2,8.7M227.9,742.0L207.4,745.5M207.4,745.5l-1.2,8.6M211.7,744.8l-1.2,8.6M227.9,753.0L207.4,756.4M207.4,756.4l-1.2,8.6M211.7,755.7l-1.2,8.6M227.9,763.0L208.6,764.2M208.6,764.2l-1.6,8.5M213.0,763.9l-1.6,8.5M227.9,771.0L208.4,771.8M208.4,771.8l-1.6,8.5M212.8,771.6l-1.6,8.5M227.9,778.0L208.5,778.9M208.5,778.9l-1.6,8.5M212.9,778.7l-1.6,8.5M227.9,784.5L208.4,785.2M208.4,785.2l-1.6,8.5M212.8,785.1l-1.6,8.5M227.9,790.0L208.4,790.8M208.4,790.8l-1.6,8.5M212.8,790.6l-1.6,8.5M227.9,795.0L208.2,795.6M208.2,795.6l-1.6,8.5M212.6,795.5l-1.6,8.5M261.5,98.9L254.0,114.7M254.0,114.7l4.0,4.5M255.9,110.7l4.0,4.5M257.8,106.8l1.8,2.0M261.5,109.1L254.0,124.9M254.0,124.9l4.0,4.5M255.9,120.9l4.0,4.5M257.8,117.0l4.0,4.5M261.5,121.7L253.0,136.2M253.0,136.2l3.7,5.0M255.2,132.4l3.7,5.0M257.5,128.6l3.7,5.0M261.5,133.3L250.7,146.6M250.7,146.6l3.0,6.0M253.5,143.2l3.0,6.0M261.5,147.2L249.8,157.2M249.8,157.2l2.5,9.5M253.1,154.3l2.5,9.5M261.5,162.2L248.2,171.4M248.2,171.4l0.8,8.5M251.8,168.9l0.4,3.8M261.5,178.3L246.5,185.0M246.5,185.0l0.0,9.5M250.5,183.2l0.0,4.3M261.5,195.8L245.7,200.8M245.7,200.8l0.0,9.5M249.9,199.5l0.0,4.3M261.5,214.2L244.7,218.8M244.7,218.8l0.0,9.5M249.0,217.6l0.0,4.3M261.5,232.5L240.5,233.2M240.5,233.2l-3.4,8.2M244.9,233.0l-3.4,8.2M261.5,252.5L240.0,248.5M240.0,248.5l-4.2,7.6M244.3,249.3l-4.2,7.6M261.5,272.5L240.9,266.0M240.9,266.0l-5.3,7.5M245.1,267.4l-5.3,7.5M249.3,268.7l-2.4,3.4M261.5,295.0L241.6,289.2M241.6,289.2l-6.0,7.0M245.9,290.4l-6.0,7.0M250.1,291.6l-2.7,3.2M261.5,318.3L241.0,313.7M241.0,313.7l-4.7,7.7M245.3,314.6l-4.7,7.7M249.6,315.6l-2.1,3.4M261.5,341.0L240.5,340.5M240.5,340.5l-4.1,7.4M244.9,340.6l-4.1,7.4M249.3,340.7l-1.8,3.3M261.5,363.5L240.6,365.2M240.6,365.2l-3.9,7.6M245.0,364.8l-3.9,7.6M249.4,364.5l-3.9,7.6M261.5,385.5L240.6,387.0M240.6,387.0l-4.0,7.9M245.0,386.7l-4.0,7.9M249.4,386.3l-1.8,3.6M261.5,407.5L239.8,408.9M239.8,408.9l-3.4,8.6M244.2,408.6l-3.4,8.6M248.6,408.3l-1.5,3.9M261.5,429.5L239.8,430.9M239.8,430.9l-3.4,8.6M244.2,430.6l-3.4,8.6M248.6,430.3l-1.5,3.9M261.5,451.5L239.8,452.9M239.8,452.9l-3.4,8.6M244.2,452.6l-3.4,8.6M248.6,452.3l-1.5,3.9M261.5,473.3L239.8,475.5M239.8,475.5l-3.0,8.6M244.2,475.1l-3.0,8.6M248.6,474.6l-1.4,3.9M261.5,496.0L240.0,499.1M240.0,499.1l-2.5,8.6M244.4,498.5l-2.5,8.6M248.7,497.8l-1.1,3.9M261.5,518.7L240.2,522.6M240.2,522.6l-1.6,8.4M244.5,521.8l-1.6,8.4M248.9,521.0l-0.7,3.8M261.5,541.3L240.2,546.2M240.2,546.2l-0.8,8.0M244.5,545.2l-0.8,8.0M261.5,563.0L240.2,567.9M240.2,567.9l-0.8,8.0M244.5,566.9l-0.8,8.0M261.5,583.0L240.4,588.2M240.4,588.2l-1.1,7.7M244.7,587.1l-1.1,7.7M261.5,602.0L240.4,607.2M240.4,607.2l-1.1,7.7M244.7,606.1l-1.1,7.7M261.5,620.0L240.4,625.5M240.4,625.5l-0.8,8.0M244.7,624.4l-0.8,8.0M261.5,638.0L240.4,643.8M240.4,643.8l-0.5,8.0M244.7,642.6l-0.5,8.0M261.5,655.0L240.4,660.8M240.4,660.8l-0.2,8.0M244.7,659.6l-0.2,8.0M261.5,672.0L240.4,677.8M240.4,677.8l-0.2,8.0M244.7,676.6l-0.2,8.0M261.5,689.0L240.4,694.5M240.4,694.5l-0.5,8.3M244.7,693.4l-0.5,8.3M261.5,704.0L240.0,708.5M240.0,708.5l-0.5,8.5M244.3,707.6l-0.5,8.5M261.5,718.0L240.0,722.5M240.0,722.5l-0.5,8.5M244.3,721.6l-0.5,8.5M261.5,731.0L240.0,735.5M240.0,735.5l-0.5,8.5M244.3,734.6l-0.5,8.5M261.5,742.0L240.0,746.5M240.0,746.5l-0.5,8.5M244.3,745.6l-0.5,8.5M261.5,753.0L240.0,757.5M240.0,757.5l-0.5,8.5M244.3,756.6l-0.5,8.5M261.5,763.0L240.5,765.0M240.5,765.0l-1.0,8.5M244.9,764.6l-1.0,8.5M261.5,771.0L240.5,773.0M240.5,773.0l-1.0,8.5M244.9,772.6l-1.0,8.5M261.5,778.0L240.5,780.0M240.5,780.0l-1.0,8.5M244.9,779.6l-1.0,8.5M261.5,784.5L240.5,786.5M240.5,786.5l-1.0,8.5M244.9,786.1l-1.0,8.5M261.5,790.0L240.5,792.0M240.5,792.0l-1.0,8.5M244.9,791.6l-1.0,8.5M261.5,795.0L240.5,797.0M240.5,797.0l-1.0,8.5M244.9,796.6l-1.0,8.5M295.1,98.9L287.6,114.7M287.6,114.7l4.0,4.5M289.4,110.7l4.0,4.5M291.3,106.8l1.8,2.0M295.1,109.1L287.6,124.9M287.6,124.9l4.0,4.5M289.4,120.9l4.0,4.5M291.3,117.0l4.0,4.5M295.1,121.7L286.6,136.2M286.6,136.2l3.7,5.0M288.8,132.4l3.7,5.0M291.0,128.6l3.7,5.0M295.1,133.3L284.2,146.6M284.2,146.6l3.0,6.0M287.0,143.2l3.0,6.0M295.1,147.2L283.4,157.2M283.4,157.2l2.5,9.5M286.7,154.3l2.5,9.5M295.1,162.2L281.8,171.4M281.8,171.4l0.8,8.5M285.4,168.9l0.4,3.8M295.1,178.3L280.1,185.0M280.1,185.0l0.0,9.5M284.1,183.2l0.0,4.3M295.1,195.8L279.2,200.9M279.2,200.9l0.0,9.4M283.4,199.5l0.0,4.2M295.1,214.2L278.2,218.9M278.2,218.9l0.0,9.4M282.4,217.7l0.0,4.2M295.1,232.5L274.0,233.4M274.0,233.4l-3.2,8.2M278.4,233.3l-3.2,8.2M295.1,252.5L273.4,249.0M273.4,249.0l-4.0,7.7M277.8,249.7l-4.0,7.7M295.1,272.5L274.4,266.6M274.4,266.6l-5.1,7.5M278.6,267.8l-5.1,7.5M282.9,269.0l-2.3,3.4M295.1,295.0L275.0,289.6M275.0,289.6l-5.9,7.1M279.3,290.7l-5.9,7.1M283.5,291.9l-2.6,3.2M295.1,318.3L274.4,314.0M274.4,314.0l-4.6,7.7M278.7,314.9l-4.6,7.7M283.0,315.8l-2.1,3.5M295.1,341.0L274.0,340.6M274.0,340.6l-4.0,7.5M278.4,340.7l-4.0,7.5M282.8,340.8l-1.8,3.4M295.1,363.5L274.2,365.4M274.2,365.4l-3.8,7.6M278.5,365.0l-3.8,7.6M282.9,364.6l-3.8,7.6M295.1,385.5L274.2,387.1M274.2,387.1l-3.9,7.9M278.5,386.8l-3.9,7.9M282.9,386.5l-1.7,3.5M295.1,407.5L273.4,409.1M273.4,409.1l-3.2,8.6M277.8,408.8l-3.2,8.6M282.2,408.4l-1.5,3.8M295.1,429.5L273.4,431.1M273.4,431.1l-3.2,8.6M277.8,430.8l-3.2,8.6M282.2,430.4l-1.5,3.8M295.1,451.5L273.4,453.1M273.4,453.1l-3.2,8.6M277.8,452.8l-3.2,8.6M282.2,452.4l-1.5,3.8M295.1,473.3L273.4,475.7M273.4,475.7l-2.9,8.6M277.8,475.2l-2.9,8.6M282.1,474.7l-1.3,3.8M295.1,496.0L273.6,499.2M273.6,499.2l-2.4,8.5M277.9,498.6l-2.4,8.5M282.3,497.9l-1.1,3.8M295.1,518.7L273.8,522.7M273.8,522.7l-1.5,8.4M278.1,521.9l-1.5,8.4M282.4,521.1l-0.7,3.8M295.1,541.3L273.8,546.3M273.8,546.3l-0.8,8.0M278.1,545.3l-0.8,8.0M295.1,563.0L273.8,568.0M273.8,568.0l-0.8,8.0M278.1,567.0l-0.8,8.0M295.1,583.0L273.9,588.2M273.9,588.2l-1.0,7.8M278.2,587.2l-1.0,7.8M295.1,602.0L273.9,607.2M273.9,607.2l-1.0,7.8M278.2,606.2l-1.0,7.8M295.1,620.0L273.9,625.5M273.9,625.5l-0.8,8.0M278.2,624.4l-0.8,8.0M295.1,638.0L273.9,643.8M273.9,643.8l-0.5,8.0M278.2,642.6l-0.5,8.0M295.1,655.0L273.9,660.8M273.9,660.8l-0.2,8.0M278.2,659.6l-0.2,8.0M295.1,672.0L273.9,677.8M273.9,677.8l-0.2,8.0M278.2,676.6l-0.2,8.0M295.1,689.0L273.9,694.5M273.9,694.5l-0.5,8.2M278.2,693.4l-0.5,8.2M295.1,704.0L273.9,708.6M273.9,708.6l-0.5,8.5M278.2,707.7l-0.5,8.5M295.1,718.0L273.9,722.6M273.9,722.6l-0.5,8.5M278.2,721.7l-0.5,8.5M295.1,731.0L273.9,735.6M273.9,735.6l-0.5,8.5M278.2,734.7l-0.5,8.5M295.1,742.0L273.9,746.6M273.9,746.6l-0.5,8.5M278.2,745.7l-0.5,8.5M295.1,753.0L273.9,757.6M273.9,757.6l-0.5,8.5M278.2,756.7l-0.5,8.5M295.1,763.0L274.3,765.2M274.3,765.2l-1.0,8.5M278.7,764.8l-1.0,8.5M295.1,771.0L274.3,773.2M274.3,773.2l-1.0,8.5M278.7,772.8l-1.0,8.5M295.1,778.0L274.3,780.2M274.3,780.2l-1.0,8.5M278.7,779.8l-1.0,8.5M295.1,784.5L274.3,786.7M274.3,786.7l-1.0,8.5M278.7,786.3l-1.0,8.5M295.1,790.0L274.3,792.2M274.3,792.2l-1.0,8.5M278.7,791.8l-1.0,8.5M295.1,795.0L274.3,797.2M274.3,797.2l-1.0,8.5M278.7,796.8l-1.0,8.5M328.6,98.9L321.1,114.7M321.1,114.7l4.0,4.5M323.0,110.7l4.0,4.5M324.9,106.8l1.8,2.0M328.6,109.1L321.1,124.9M321.1,124.9l4.0,4.5M323.0,120.9l4.0,4.5M324.9,117.0l4.0,4.5M328.6,121.7L320.1,136.2M320.1,136.2l3.7,5.0M322.3,132.4l3.7,5.0M324.6,128.6l3.7,5.0M328.6,133.3L317.8,146.6M317.8,146.6l3.0,6.0M320.6,143.2l3.0,6.0M328.6,147.2L316.9,157.2M316.9,157.2l2.5,9.5M320.2,154.3l2.5,9.5M328.6,162.2L315.3,171.4M315.3,171.4l0.8,8.5M318.9,168.9l0.4,3.8M328.6,178.3L313.6,185.0M313.6,185.0l0.0,9.5M317.6,183.2l0.0,4.3M328.6,195.8L312.8,200.9M312.8,200.9l0.0,9.4M317.0,199.6l0.0,4.2M328.6,214.2L311.6,218.9M311.6,218.9l0.0,9.4M315.9,217.7l0.0,4.2M328.6,232.5L307.5,233.7M307.5,233.7l-2.9,8.3M311.9,233.5l-2.9,8.3M328.6,252.5L306.9,249.6M306.9,249.6l-3.7,7.8M311.3,250.2l-3.7,7.8M328.6,272.5L307.9,267.1M307.9,267.1l-4.9,7.6M312.1,268.2l-4.9,7.6M316.4,269.3l-2.2,3.4M328.6,295.0L308.4,290.0M308.4,290.0l-5.7,7.2M312.7,291.0l-5.7,7.2M317.0,292.1l-2.6,3.2M328.6,318.3L307.8,314.3M307.8,314.3l-4.5,7.7M312.2,315.2l-4.5,7.7M316.5,316.0l-2.0,3.5M328.6,341.0L307.5,340.8M307.5,340.8l-3.9,7.5M311.9,340.9l-3.9,7.5M316.3,340.9l-1.8,3.4M328.6,363.5L307.7,365.6M307.7,365.6l-3.6,7.6M312.0,365.1l-3.6,7.6M316.4,364.7l-3.6,7.6M328.6,385.5L307.7,387.3M307.7,387.3l-3.7,7.8M312.0,387.0l-3.7,7.8M316.4,386.6l-1.7,3.5M328.6,407.5L307.0,409.3M307.0,409.3l-3.1,8.5M311.3,408.9l-3.1,8.5M315.7,408.6l-1.4,3.8M328.6,429.5L307.0,431.3M307.0,431.3l-3.1,8.5M311.3,430.9l-3.1,8.5M315.7,430.6l-1.4,3.8M328.6,451.5L307.0,453.3M307.0,453.3l-3.1,8.5M311.3,452.9l-3.1,8.5M315.7,452.6l-1.4,3.8M328.6,473.3L307.0,475.9M307.0,475.9l-2.7,8.5M311.3,475.3l-2.7,8.5M315.7,474.8l-1.2,3.8M328.6,496.0L307.1,499.4M307.1,499.4l-2.2,8.5M311.4,498.7l-2.2,8.5M315.8,498.0l-1.0,3.8M328.6,518.7L307.3,522.8M307.3,522.8l-1.4,8.3M311.6,522.0l-1.4,8.3M315.9,521.1l-0.6,3.8M328.6,541.3L307.4,546.4M307.4,546.4l-0.7,8.0M311.6,545.4l-0.7,8.0M328.6,563.0L307.4,568.1M307.4,568.1l-0.7,8.0M311.6,567.1l-0.7,8.0M328.6,583.0L307.5,588.3M307.5,588.3l-0.9,7.8M311.7,587.2l-0.9,7.8M328.6,602.0L307.5,607.3M307.5,607.3l-0.9,7.8M311.7,606.2l-0.9,7.8M328.6,620.0L307.5,625.5M307.5,625.5l-0.7,8.0M311.7,624.4l-0.7,8.0M328.6,638.0L307.5,643.7M307.5,643.7l-0.5,8.0M311.7,642.6l-0.5,8.0M328.6,655.0L307.5,660.7M307.5,660.7l-0.3,8.0M311.7,659.6l-0.3,8.0M328.6,672.0L307.5,677.7M307.5,677.7l-0.3,8.0M311.7,676.6l-0.3,8.0M328.6,689.0L307.5,694.5M307.5,694.5l-0.5,8.2M311.7,693.4l-0.5,8.2M328.6,704.0L307.7,708.7M307.7,708.7l-0.5,8.5M312.0,707.8l-0.5,8.5M328.6,718.0L307.7,722.7M307.7,722.7l-0.5,8.5M312.0,721.8l-0.5,8.5M328.6,731.0L307.7,735.7M307.7,735.7l-0.5,8.6M312.0,734.7l-0.5,8.6M328.6,742.0L307.7,746.7M307.7,746.7l-0.5,8.6M312.0,745.7l-0.5,8.6M328.6,753.0L307.7,757.7M307.7,757.7l-0.5,8.6M312.0,756.7l-0.5,8.6M328.6,763.0L308.2,765.5M308.2,765.5l-0.9,8.6M312.5,764.9l-0.9,8.6M328.6,771.0L308.2,773.5M308.2,773.5l-0.9,8.6M312.5,772.9l-0.9,8.6M328.6,778.0L308.2,780.5M308.2,780.5l-0.9,8.6M312.5,779.9l-0.9,8.6M328.6,784.5L308.2,787.0M308.2,787.0l-0.9,8.6M312.5,786.4l-0.9,8.6M328.6,790.0L308.2,792.5M308.2,792.5l-0.9,8.6M312.5,791.9l-0.9,8.6M328.6,795.0L308.2,797.5M308.2,797.5l-0.9,8.6M312.5,796.9l-0.9,8.6M362.1,98.9L354.6,114.7M354.6,114.7l4.0,4.5M356.5,110.7l4.0,4.5M358.4,106.8l1.8,2.0M362.1,109.1L354.6,124.9M354.6,124.9l4.0,4.5M356.5,120.9l4.0,4.5M358.4,117.0l4.0,4.5M362.1,121.7L353.6,136.2M353.6,136.2l3.7,5.0M355.9,132.4l3.7,5.0M358.1,128.6l3.7,5.0M362.1,133.3L351.3,146.6M351.3,146.6l3.0,6.0M354.1,143.2l3.0,6.0M362.1,147.2L350.4,157.2M350.4,157.2l2.5,9.5M353.8,154.3l2.5,9.5M362.1,162.2L348.8,171.4M348.8,171.4l0.8,8.5M352.5,168.9l0.4,3.8M362.1,178.3L347.1,185.0M347.1,185.0l0.0,9.5M351.2,183.2l0.0,4.3M362.1,195.8L346.3,201.0M346.3,201.0l0.0,9.4M350.5,199.6l0.0,4.2M362.1,214.2L345.1,219.0M345.1,219.0l0.0,9.4M349.3,217.8l0.0,4.2M362.1,232.5L341.0,234.0M341.0,234.0l-2.7,8.3M345.4,233.7l-2.7,8.3M362.1,252.5L340.4,250.2M340.4,250.2l-3.5,7.9M344.8,250.6l-3.5,7.9M362.1,272.5L341.4,267.6M341.4,267.6l-4.8,7.7M345.6,268.6l-4.8,7.7M349.9,269.6l-2.1,3.4M362.1,295.0L341.8,290.4M341.8,290.4l-5.5,7.3M346.1,291.4l-5.5,7.3M350.4,292.3l-2.5,3.3M362.1,318.3L341.3,314.7M341.3,314.7l-4.4,7.8M345.6,315.4l-4.4,7.8M349.9,316.2l-2.0,3.5M362.1,341.0L341.0,341.0M341.0,341.0l-3.8,7.5M345.4,341.0l-3.8,7.5M349.8,341.0l-1.7,3.4M362.1,363.5L341.2,365.7M341.2,365.7l-3.4,7.6M345.5,365.3l-3.4,7.6M349.9,364.8l-3.4,7.6M362.1,385.5L341.2,387.5M341.2,387.5l-3.5,7.8M345.5,387.1l-3.5,7.8M349.9,386.7l-1.6,3.5M362.1,407.5L340.5,409.5M340.5,409.5l-3.0,8.4M344.9,409.1l-3.0,8.4M349.3,408.7l-1.3,3.8M362.1,429.5L340.5,431.5M340.5,431.5l-3.0,8.4M344.9,431.1l-3.0,8.4M349.3,430.7l-1.3,3.8M362.1,451.5L340.5,453.5M340.5,453.5l-3.0,8.4M344.9,453.1l-3.0,8.4M349.3,452.7l-1.3,3.8M362.1,473.3L340.5,476.0M340.5,476.0l-2.6,8.4M344.9,475.5l-2.6,8.4M349.3,474.9l-1.2,3.8M362.1,496.0L340.6,499.6M340.6,499.6l-2.1,8.5M345.0,498.8l-2.1,8.5M349.3,498.1l-1.0,3.8M362.1,518.7L340.8,522.9M340.8,522.9l-1.3,8.3M345.2,522.0l-1.3,8.3M349.5,521.2l-0.6,3.7M362.1,541.3L340.9,546.5M340.9,546.5l-0.7,8.0M345.2,545.5l-0.7,8.0M362.1,563.0L340.9,568.2M340.9,568.2l-0.7,8.0M345.2,567.2l-0.7,8.0M362.1,583.0L341.0,588.4M341.0,588.4l-0.8,7.8M345.3,587.3l-0.8,7.8M362.1,602.0L341.0,607.4M341.0,607.4l-0.8,7.8M345.3,606.3l-0.8,7.8M362.1,620.0L341.0,625.5M341.0,625.5l-0.7,8.0M345.3,624.4l-0.7,8.0M362.1,638.0L341.0,643.6M341.0,643.6l-0.5,8.0M345.3,642.5l-0.5,8.0M362.1,655.0L341.0,660.6M341.0,660.6l-0.3,8.0M345.3,659.5l-0.3,8.0M362.1,672.0L341.0,677.6M341.0,677.6l-0.3,8.0M345.3,676.5l-0.3,8.0M362.1,689.0L341.0,694.5M341.0,694.5l-0.5,8.2M345.3,693.4l-0.5,8.2M362.1,704.0L341.6,708.8M341.6,708.8l-0.5,8.6M345.9,707.8l-0.5,8.6M362.1,718.0L341.6,722.8M341.6,722.8l-0.5,8.6M345.9,721.8l-0.5,8.6M362.1,731.0L341.6,735.7M341.6,735.7l-0.5,8.6M345.9,734.8l-0.5,8.6M362.1,742.0L341.6,746.7M341.6,746.7l-0.5,8.6M345.9,745.8l-0.5,8.6M362.1,753.0L341.6,757.7M341.6,757.7l-0.5,8.6M345.9,756.8l-0.5,8.6M362.1,763.0L342.0,765.7M342.0,765.7l-0.9,8.6M346.4,765.1l-0.9,8.6M362.1,771.0L342.0,773.7M342.0,773.7l-0.9,8.6M346.4,773.1l-0.9,8.6M362.1,778.0L342.0,780.7M342.0,780.7l-0.9,8.6M346.4,780.1l-0.9,8.6M362.1,784.5L342.0,787.2M342.0,787.2l-0.9,8.6M346.4,786.6l-0.9,8.6M362.1,790.0L342.0,792.7M342.0,792.7l-0.9,8.6M346.4,792.1l-0.9,8.6M362.1,795.0L342.0,797.7M342.0,797.7l-0.9,8.6M346.4,797.1l-0.9,8.6M395.7,98.9L388.2,114.7M388.2,114.7l4.0,4.5M390.1,110.7l4.0,4.5M392.0,106.8l1.8,2.0M395.7,109.1L388.2,124.9M388.2,124.9l4.0,4.5M390.1,120.9l4.0,4.5M392.0,117.0l4.0,4.5M395.7,121.7L387.2,136.2M387.2,136.2l3.7,5.0M389.4,132.4l3.7,5.0M391.7,128.6l3.7,5.0M395.7,133.3L384.9,146.6M384.9,146.6l3.0,6.0M387.7,143.2l3.0,6.0M395.7,147.2L384.0,157.2M384.0,157.2l2.5,9.5M387.3,154.3l2.5,9.5M395.7,162.2L382.4,171.4M382.4,171.4l0.8,8.5M386.0,168.9l0.4,3.8M395.7,178.3L380.7,185.0M380.7,185.0l0.0,9.5M384.7,183.2l0.0,4.3M395.7,195.8L379.9,201.0M379.9,201.0l0.0,9.4M384.1,199.7l0.0,4.2M395.7,214.2L378.5,219.1M378.5,219.1l0.0,9.4M382.8,217.9l0.0,4.2M395.7,232.5L374.5,234.3M374.5,234.3l-2.5,8.4M378.9,233.9l-2.5,8.4M395.7,252.5L373.9,250.7M373.9,250.7l-3.3,8.0M378.3,251.1l-3.3,8.0M395.7,272.5L374.8,268.1M374.8,268.1l-4.6,7.7M379.1,269.0l-4.6,7.7M383.4,269.9l-2.1,3.5M395.7,295.0L375.2,290.8M375.2,290.8l-5.3,7.3M379.5,291.7l-5.3,7.3M383.8,292.6l-2.4,3.3M395.7,318.3L374.7,315.0M374.7,315.0l-4.3,7.8M379.0,315.7l-4.3,7.8M383.4,316.4l-1.9,3.5M395.7,341.0L374.5,341.2M374.5,341.2l-3.7,7.6M378.9,341.2l-3.7,7.6M383.3,341.1l-1.7,3.4M395.7,363.5L374.7,365.9M374.7,365.9l-3.3,7.6M379.1,365.4l-3.3,7.6M383.4,364.9l-3.3,7.6M395.7,385.5L374.7,387.7M374.7,387.7l-3.3,7.8M379.1,387.3l-3.3,7.8M383.4,386.8l-1.5,3.5M395.7,407.5L374.1,409.7M374.1,409.7l-2.9,8.3M378.5,409.2l-2.9,8.3M382.8,408.8l-1.3,3.8M395.7,429.5L374.1,431.7M374.1,431.7l-2.9,8.3M378.5,431.2l-2.9,8.3M382.8,430.8l-1.3,3.8M395.7,451.5L374.1,453.7M374.1,453.7l-2.9,8.3M378.5,453.2l-2.9,8.3M382.8,452.8l-1.3,3.8M395.7,473.3L374.1,476.2M374.1,476.2l-2.5,8.3M378.4,475.6l-2.5,8.3M382.8,475.0l-1.1,3.8M395.7,496.0L374.2,499.7M374.2,499.7l-2.0,8.4M378.5,499.0l-2.0,8.4M382.9,498.2l-0.9,3.8M395.7,518.7L374.4,523.0M374.4,523.0l-1.2,8.3M378.7,522.1l-1.2,8.3M383.0,521.3l-0.5,3.7M395.7,541.3L374.5,546.6M374.5,546.6l-0.6,8.0M378.7,545.5l-0.6,8.0M395.7,563.0L374.5,568.3M374.5,568.3l-0.6,8.0M378.7,567.2l-0.6,8.0M395.7,583.0L374.5,588.4M374.5,588.4l-0.7,7.9M378.8,587.3l-0.7,7.9M395.7,602.0L374.5,607.4M374.5,607.4l-0.7,7.9M378.8,606.3l-0.7,7.9M395.7,620.0L374.5,625.5M374.5,625.5l-0.6,8.0M378.8,624.4l-0.6,8.0M395.7,638.0L374.5,643.6M374.5,643.6l-0.5,8.0M378.8,642.5l-0.5,8.0M395.7,655.0L374.5,660.6M374.5,660.6l-0.4,8.0M378.8,659.5l-0.4,8.0M395.7,672.0L374.5,677.6M374.5,677.6l-0.4,8.0M378.8,676.5l-0.4,8.0M395.7,689.0L374.5,694.5M374.5,694.5l-0.5,8.1M378.8,693.4l-0.5,8.1M395.7,704.0L375.4,709.0M375.4,709.0l-0.5,8.6M379.7,707.9l-0.5,8.6M395.7,718.0L375.4,723.0M375.4,723.0l-0.5,8.6M379.7,721.9l-0.5,8.6M395.7,731.0L375.4,735.8M375.4,735.8l-0.5,8.6M379.7,734.8l-0.5,8.6M395.7,742.0L375.4,746.8M375.4,746.8l-0.5,8.6M379.7,745.8l-0.5,8.6M395.7,753.0L375.4,757.8M375.4,757.8l-0.5,8.6M379.7,756.8l-0.5,8.6M395.7,763.0L375.8,766.0M375.8,766.0l-0.8,8.6M380.2,765.3l-0.8,8.6M395.7,771.0L375.8,774.0M375.8,774.0l-0.8,8.6M380.2,773.3l-0.8,8.6M395.7,778.0L375.8,781.0M375.8,781.0l-0.8,8.6M380.2,780.3l-0.8,8.6M395.7,784.5L375.8,787.5M375.8,787.5l-0.8,8.6M380.2,786.8l-0.8,8.6M395.7,790.0L375.8,793.0M375.8,793.0l-0.8,8.6M380.2,792.3l-0.8,8.6M395.7,795.0L375.8,798.0M375.8,798.0l-0.8,8.6M380.2,797.3l-0.8,8.6M429.2,98.9L421.8,114.7M421.8,114.7l4.0,4.5M423.6,110.7l4.0,4.5M425.5,106.8l1.8,2.0M429.2,109.1L421.8,124.9M421.8,124.9l4.0,4.5M423.6,120.9l4.0,4.5M425.5,117.0l4.0,4.5M429.2,121.7L420.8,136.2M420.8,136.2l3.7,5.0M423.0,132.4l3.7,5.0M425.2,128.6l3.7,5.0M429.2,133.3L418.4,146.6M418.4,146.6l3.0,6.0M421.2,143.2l3.0,6.0M429.2,147.2L417.6,157.2M417.6,157.2l2.5,9.5M420.9,154.3l2.5,9.5M429.2,162.2L415.9,171.4M415.9,171.4l0.8,8.5M419.6,168.9l0.4,3.8M429.2,178.3L414.2,185.0M414.2,185.0l0.0,9.5M418.3,183.2l0.0,4.3M429.2,195.8L413.4,201.1M413.4,201.1l0.0,9.3M417.6,199.7l0.0,4.2M429.2,214.2L412.0,219.2M412.0,219.2l0.0,9.3M416.2,217.9l0.0,4.2M429.2,232.5L408.0,234.6M408.0,234.6l-2.3,8.4M412.4,234.2l-2.3,8.4M429.2,252.5L407.4,251.3M407.4,251.3l-3.1,8.1M411.8,251.5l-3.1,8.1M429.2,272.5L408.3,268.6M408.3,268.6l-4.4,7.8M412.6,269.4l-4.4,7.8M417.0,270.2l-2.0,3.5M429.2,295.0L408.6,291.2M408.6,291.2l-5.2,7.4M412.9,292.0l-5.2,7.4M417.2,292.8l-2.3,3.3M429.2,318.3L408.1,315.4M408.1,315.4l-4.2,7.9M412.5,316.0l-4.2,7.9M416.8,316.6l-1.9,3.5M429.2,341.0L408.0,341.4M408.0,341.4l-3.6,7.6M412.4,341.3l-3.6,7.6M416.8,341.2l-1.6,3.4M429.2,363.5L408.2,366.1M408.2,366.1l-3.1,7.6M412.6,365.5l-3.1,7.6M416.9,365.0l-3.1,7.6M429.2,385.5L408.2,387.9M408.2,387.9l-3.2,7.8M412.6,387.4l-3.2,7.8M416.9,386.9l-1.4,3.5M429.2,407.5L407.6,409.9M407.6,409.9l-2.7,8.3M412.0,409.4l-2.7,8.3M416.4,408.9l-1.2,3.7M429.2,429.5L407.6,431.9M407.6,431.9l-2.7,8.3M412.0,431.4l-2.7,8.3M416.4,430.9l-1.2,3.7M429.2,451.5L407.6,453.9M407.6,453.9l-2.7,8.3M412.0,453.4l-2.7,8.3M416.4,452.9l-1.2,3.7M429.2,473.3L407.6,476.4M407.6,476.4l-2.4,8.3M412.0,475.8l-2.4,8.3M416.4,475.1l-1.1,3.7M429.2,496.0L407.8,499.9M407.8,499.9l-1.9,8.4M412.1,499.1l-1.9,8.4M416.4,498.3l-0.8,3.8M429.2,518.7L407.9,523.1M407.9,523.1l-1.1,8.3M412.3,522.2l-1.1,8.3M416.6,521.3l-0.5,3.7M429.2,541.3L408.0,546.7M408.0,546.7l-0.6,8.0M412.3,545.6l-0.6,8.0M429.2,563.0L408.0,568.4M408.0,568.4l-0.6,8.0M412.3,567.3l-0.6,8.0M429.2,583.0L408.1,588.5M408.1,588.5l-0.6,8.0M412.3,587.4l-0.6,8.0M429.2,602.0L408.1,607.5M408.1,607.5l-0.6,8.0M412.3,606.4l-0.6,8.0M429.2,620.0L408.1,625.5M408.1,625.5l-0.6,8.0M412.3,624.4l-0.6,8.0M429.2,638.0L408.1,643.5M408.1,643.5l-0.5,8.0M412.3,642.4l-0.5,8.0M429.2,655.0L408.1,660.5M408.1,660.5l-0.5,8.0M412.3,659.4l-0.5,8.0M429.2,672.0L408.1,677.5M408.1,677.5l-0.5,8.0M412.3,676.4l-0.5,8.0M429.2,689.0L408.1,694.5M408.1,694.5l-0.5,8.1M412.3,693.4l-0.5,8.1M429.2,704.0L409.3,709.1M409.3,709.1l-0.5,8.6M413.6,708.0l-0.5,8.6M429.2,718.0L409.3,723.1M409.3,723.1l-0.5,8.6M413.6,722.0l-0.5,8.6M429.2,731.0L409.3,735.9M409.3,735.9l-0.4,8.7M413.6,734.9l-0.4,8.7M429.2,742.0L409.3,746.9M409.3,746.9l-0.4,8.7M413.6,745.9l-0.4,8.7M429.2,753.0L409.3,757.9M409.3,757.9l-0.4,8.7M413.6,756.9l-0.4,8.7M429.2,763.0L409.7,766.2M409.7,766.2l-0.8,8.7M414.0,765.5l-0.8,8.7M429.2,771.0L409.7,774.2M409.7,774.2l-0.8,8.7M414.0,773.5l-0.8,8.7M429.2,778.0L409.7,781.2M409.7,781.2l-0.8,8.7M414.0,780.5l-0.8,8.7M429.2,784.5L409.7,787.7M409.7,787.7l-0.8,8.7M414.0,787.0l-0.8,8.7M429.2,790.0L409.7,793.2M409.7,793.2l-0.8,8.7M414.0,792.5l-0.8,8.7M429.2,795.0L409.7,798.2M409.7,798.2l-0.8,8.7M414.0,797.5l-0.8,8.7M462.8,98.9L455.3,114.7M455.3,114.7l4.0,4.5M457.2,110.7l4.0,4.5M459.1,106.8l1.8,2.0M462.8,109.1L455.3,124.9M455.3,124.9l4.0,4.5M457.2,120.9l4.0,4.5M459.1,117.0l4.0,4.5M462.8,121.7L454.3,136.2M454.3,136.2l3.7,5.0M456.5,132.4l3.7,5.0M458.8,128.6l3.7,5.0M462.8,133.3L452.0,146.6M452.0,146.6l3.0,6.0M454.8,143.2l3.0,6.0M462.8,147.2L451.1,157.2M451.1,157.2l2.5,9.5M454.4,154.3l2.5,9.5M462.8,162.2L449.5,171.4M449.5,171.4l0.8,8.5M453.1,168.9l0.4,3.8M462.8,178.3L447.8,185.0M447.8,185.0l0.0,9.5M451.8,183.2l0.0,4.3M462.8,195.8L447.0,201.1M447.0,201.1l0.0,9.3M451.2,199.7l0.0,4.2M462.8,214.2L445.4,219.2M445.4,219.2l0.0,9.3M449.7,218.0l0.0,4.2M462.8,232.5L441.6,234.9M441.6,234.9l-2.1,8.5M445.9,234.4l-2.1,8.5M462.8,252.5L440.9,251.8M440.9,251.8l-2.9,8.2M445.3,252.0l-2.9,8.2M462.8,272.5L441.8,269.1M441.8,269.1l-4.2,7.8M446.1,269.8l-4.2,7.8M462.8,295.0L441.9,291.6M441.9,291.6l-5.0,7.5M446.3,292.3l-5.0,7.5M450.6,293.0l-2.2,3.4M462.8,318.3L441.6,315.7M441.6,315.7l-4.2,7.9M445.9,316.2l-4.2,7.9M450.3,316.8l-1.9,3.6M462.8,341.0L441.4,341.6M441.4,341.6l-3.5,7.7M445.8,341.5l-3.5,7.7M450.2,341.4l-1.6,3.4M462.8,363.5L441.7,366.2M441.7,366.2l-2.9,7.5M446.1,365.7l-2.9,7.5M450.4,365.1l-1.3,3.4M462.8,385.5L441.7,388.1M441.7,388.1l-3.0,7.8M446.1,387.6l-3.0,7.8M450.4,387.0l-1.4,3.5M462.8,407.5L441.2,410.1M441.2,410.1l-2.6,8.2M445.6,409.5l-2.6,8.2M449.9,409.0l-1.2,3.7M462.8,429.5L441.2,432.1M441.2,432.1l-2.6,8.2M445.6,431.5l-2.6,8.2M449.9,431.0l-1.2,3.7M462.8,451.5L441.2,454.1M441.2,454.1l-2.6,8.2M445.6,453.5l-2.6,8.2M449.9,453.0l-1.2,3.7M462.8,473.3L441.2,476.6M441.2,476.6l-2.2,8.2M445.6,475.9l-2.2,8.2M449.9,475.2l-1.0,3.7M462.8,496.0L441.3,500.0M441.3,500.0l-1.8,8.3M445.6,499.2l-1.8,8.3M450.0,498.4l-0.8,3.8M462.8,518.7L441.5,523.2M441.5,523.2l-1.0,8.2M445.8,522.3l-1.0,8.2M462.8,541.3L441.6,546.8M441.6,546.8l-0.5,8.0M445.9,545.7l-0.5,8.0M462.8,563.0L441.6,568.5M441.6,568.5l-0.5,8.0M445.9,567.4l-0.5,8.0M462.8,583.0L441.6,588.5M441.6,588.5l-0.5,8.0M445.9,587.4l-0.5,8.0M462.8,602.0L441.6,607.5M441.6,607.5l-0.5,8.0M445.9,606.4l-0.5,8.0M462.8,620.0L441.6,625.5M441.6,625.5l-0.5,8.0M445.9,624.4l-0.5,8.0M462.8,638.0L441.6,643.5M441.6,643.5l-0.5,8.0M445.9,642.4l-0.5,8.0M462.8,655.0L441.6,660.5M441.6,660.5l-0.5,8.0M445.9,659.4l-0.5,8.0M462.8,672.0L441.6,677.5M441.6,677.5l-0.5,8.0M445.9,676.4l-0.5,8.0M462.8,689.0L441.6,694.5M441.6,694.5l-0.5,8.0M445.9,693.4l-0.5,8.0M462.8,704.0L443.2,709.2M443.2,709.2l-0.5,8.6M447.4,708.1l-0.5,8.6M462.8,718.0L443.2,723.2M443.2,723.2l-0.5,8.6M447.4,722.1l-0.5,8.6M462.8,731.0L443.2,736.0M443.2,736.0l-0.4,8.7M447.4,734.9l-0.4,8.7M462.8,742.0L443.2,747.0M443.2,747.0l-0.4,8.7M447.4,745.9l-0.4,8.7M462.8,753.0L443.2,758.0M443.2,758.0l-0.4,8.7M447.4,756.9l-0.4,8.7M462.8,763.0L443.5,766.4M443.5,766.4l-0.7,8.7M447.8,765.7l-0.7,8.7M462.8,771.0L443.5,774.4M443.5,774.4l-0.7,8.7M447.8,773.7l-0.7,8.7M462.8,778.0L443.5,781.4M443.5,781.4l-0.7,8.7M447.8,780.7l-0.7,8.7M462.8,784.5L443.5,787.9M443.5,787.9l-0.7,8.7M447.8,787.2l-0.7,8.7M462.8,790.0L443.5,793.4M443.5,793.4l-0.7,8.7M447.8,792.7l-0.7,8.7M462.8,795.0L443.5,798.4M443.5,798.4l-0.7,8.7M447.8,797.7l-0.7,8.7M496.3,98.9L488.8,114.7M488.8,114.7l4.0,4.5M490.7,110.7l4.0,4.5M492.6,106.8l1.8,2.0M496.3,109.1L488.8,124.9M488.8,124.9l4.0,4.5M490.7,120.9l4.0,4.5M492.6,117.0l4.0,4.5M496.3,121.7L487.8,136.2M487.8,136.2l3.7,5.0M490.1,132.4l3.7,5.0M492.3,128.6l3.7,5.0M496.3,133.3L485.5,146.6M485.5,146.6l3.0,6.0M488.3,143.2l3.0,6.0M496.3,147.2L484.6,157.2M484.6,157.2l2.5,9.5M488.0,154.3l2.5,9.5M496.3,162.2L483.0,171.4M483.0,171.4l0.8,8.5M486.7,168.9l0.4,3.8M496.3,178.3L481.3,185.0M481.3,185.0l0.0,9.5M485.4,183.2l0.0,4.3M496.3,195.8L480.5,201.2M480.5,201.2l0.0,9.3M484.7,199.8l0.0,4.2M496.3,214.2L478.9,219.3M478.9,219.3l0.0,9.3M483.1,218.1l0.0,4.2M496.3,232.5L475.1,235.2M475.1,235.2l-1.9,8.6M479.4,234.6l-1.9,8.6M496.3,252.5L474.4,252.4M474.4,252.4l-2.7,8.2M478.8,252.4l-2.7,8.2M496.3,272.5L475.3,269.6M475.3,269.6l-4.1,7.8M479.6,270.2l-4.1,7.8M496.3,295.0L475.3,292.1M475.3,292.1l-4.8,7.6M479.7,292.7l-4.8,7.6M484.1,293.3l-2.2,3.4M496.3,318.3L475.0,316.0M475.0,316.0l-4.1,7.9M479.4,316.5l-4.1,7.9M483.7,317.0l-1.8,3.6M496.3,341.0L474.9,341.8M474.9,341.8l-3.4,7.7M479.3,341.6l-3.4,7.7M483.7,341.5l-1.5,3.5M496.3,363.5L475.2,366.4M475.2,366.4l-2.8,7.5M479.6,365.8l-2.8,7.5M483.9,365.2l-1.3,3.4M496.3,385.5L475.2,388.3M475.2,388.3l-2.8,7.7M479.6,387.7l-2.8,7.7M483.9,387.1l-1.3,3.5M496.3,407.5L474.8,410.2M474.8,410.2l-2.5,8.1M479.1,409.7l-2.5,8.1M483.5,409.1l-1.1,3.7M496.3,429.5L474.8,432.2M474.8,432.2l-2.5,8.1M479.1,431.7l-2.5,8.1M483.5,431.1l-1.1,3.7M496.3,451.5L474.8,454.2M474.8,454.2l-2.5,8.1M479.1,453.7l-2.5,8.1M483.5,453.1l-1.1,3.7M496.3,473.3L474.8,476.7M474.8,476.7l-2.1,8.1M479.1,476.0l-2.1,8.1M483.5,475.3l-1.0,3.7M496.3,496.0L474.8,500.1M474.8,500.1l-1.6,8.3M479.2,499.3l-1.6,8.3M483.5,498.5l-0.7,3.7M496.3,518.7L475.0,523.3M475.0,523.3l-0.9,8.2M479.4,522.4l-0.9,8.2M496.3,541.3L475.5,546.9M475.5,546.9l-0.5,8.1M479.8,545.7l-0.5,8.1M496.3,563.0L475.6,568.6M475.6,568.6l-0.5,8.1M479.9,567.4l-0.5,8.1M496.3,583.0L475.6,588.6M475.6,588.6l-0.5,8.1M479.9,587.4l-0.5,8.1M496.3,602.0L475.6,607.6M475.6,607.6l-0.5,8.1M479.9,606.4l-0.5,8.1M496.3,620.0L475.6,625.6M475.6,625.6l-0.5,8.1M479.9,624.4l-0.5,8.1M496.3,638.0L475.6,643.6M475.6,643.6l-0.5,8.1M479.9,642.4l-0.5,8.1M496.3,655.0L475.6,660.6M475.6,660.6l-0.5,8.1M479.9,659.4l-0.5,8.1M496.3,672.0L475.6,677.6M475.6,677.6l-0.5,8.1M479.9,676.4l-0.5,8.1M496.3,689.0L475.6,694.6M475.6,694.6l-0.5,8.1M479.9,693.4l-0.5,8.1M496.3,704.0L477.0,709.3M477.0,709.3l-0.5,8.6M481.3,708.1l-0.5,8.6M496.3,718.0L477.0,723.3M477.0,723.3l-0.5,8.6M481.3,722.1l-0.5,8.6M496.3,731.0L477.0,736.1M477.0,736.1l-0.4,8.7M481.3,735.0l-0.4,8.7M496.3,742.0L477.0,747.1M477.0,747.1l-0.4,8.7M481.3,746.0l-0.4,8.7M496.3,753.0L477.0,758.1M477.0,758.1l-0.4,8.7M481.3,757.0l-0.4,8.7M496.3,763.0L477.3,766.7M477.3,766.7l-0.7,8.7M481.6,765.8l-0.7,8.7M496.3,771.0L477.3,774.7M477.3,774.7l-0.7,8.7M481.6,773.8l-0.7,8.7M496.3,778.0L477.3,781.7M477.3,781.7l-0.7,8.7M481.6,780.8l-0.7,8.7M496.3,784.5L477.3,788.2M477.3,788.2l-0.7,8.7M481.6,787.3l-0.7,8.7M496.3,790.0L477.3,793.7M477.3,793.7l-0.7,8.7M481.6,792.8l-0.7,8.7M496.3,795.0L477.3,798.7M477.3,798.7l-0.7,8.7M481.6,797.8l-0.7,8.7M529.9,98.9L522.4,114.7M522.4,114.7l4.0,4.5M524.3,110.7l4.0,4.5M526.2,106.8l1.8,2.0M529.9,109.1L522.4,124.9M522.4,124.9l4.0,4.5M524.3,120.9l4.0,4.5M526.2,117.0l4.0,4.5M529.9,121.7L521.4,136.2M521.4,136.2l3.7,5.0M523.6,132.4l3.7,5.0M525.9,128.6l3.7,5.0M529.9,133.3L519.1,146.6M519.1,146.6l3.0,6.0M521.9,143.2l3.0,6.0M529.9,147.2L518.2,157.2M518.2,157.2l2.5,9.5M521.5,154.3l2.5,9.5M529.9,162.2L516.6,171.4M516.6,171.4l0.8,8.5M520.2,168.9l0.4,3.8M529.9,178.3L514.9,185.0M514.9,185.0l0.0,9.5M518.9,183.2l0.0,4.3M529.9,195.8L514.1,201.2M514.1,201.2l0.0,9.2M518.3,199.8l0.0,4.2M529.9,214.2L512.4,219.4M512.4,219.4l0.0,9.2M516.6,218.1l0.0,4.2M529.9,232.5L508.6,235.5M508.6,235.5l-1.7,8.6M512.9,234.9l-1.7,8.6M529.9,252.5L507.9,253.0M507.9,253.0l-2.5,8.3M512.3,252.9l-2.5,8.3M529.9,272.5L508.8,270.1M508.8,270.1l-3.9,7.9M513.1,270.6l-3.9,7.9M529.9,295.0L508.7,292.5M508.7,292.5l-4.7,7.7M513.1,293.0l-4.7,7.7M517.5,293.5l-2.1,3.4M529.9,318.3L508.4,316.4M508.4,316.4l-4.0,8.0M512.8,316.8l-4.0,8.0M517.2,317.2l-1.8,3.6M529.9,341.0L508.4,342.0M508.4,342.0l-3.3,7.7M512.8,341.8l-3.3,7.7M517.2,341.6l-1.5,3.5M529.9,363.5L508.7,366.6M508.7,366.6l-2.6,7.5M513.1,366.0l-2.6,7.5M517.4,365.3l-1.2,3.4M529.9,385.5L508.7,388.5M508.7,388.5l-2.7,7.7M513.1,387.9l-2.7,7.7M517.4,387.3l-1.2,3.5M529.9,407.5L508.3,410.4M508.3,410.4l-2.3,8.1M512.7,409.8l-2.3,8.1M517.0,409.3l-1.1,3.6M529.9,429.5L508.3,432.4M508.3,432.4l-2.3,8.1M512.7,431.8l-2.3,8.1M517.0,431.3l-1.1,3.6M529.9,451.5L508.3,454.4M508.3,454.4l-2.3,8.1M512.7,453.8l-2.3,8.1M517.0,453.3l-1.1,3.6M529.9,473.3L508.3,476.9M508.3,476.9l-2.0,8.1M512.7,476.2l-2.0,8.1M517.0,475.5l-0.9,3.6M529.9,496.0L508.4,500.3M508.4,500.3l-1.5,8.3M512.7,499.4l-1.5,8.3M517.0,498.6l-0.7,3.7M529.9,518.7L508.6,523.4M508.6,523.4l-0.8,8.2M512.9,522.5l-0.8,8.2M529.9,541.3L509.4,547.0M509.4,547.0l-0.5,8.2M513.7,545.8l-0.5,8.2M529.9,563.0L509.6,568.7M509.6,568.7l-0.5,8.2M513.9,567.5l-0.5,8.2M529.9,583.0L509.6,588.7M509.6,588.7l-0.5,8.2M513.9,587.5l-0.5,8.2M529.9,602.0L509.6,607.7M509.6,607.7l-0.5,8.2M513.9,606.5l-0.5,8.2M529.9,620.0L509.6,625.7M509.6,625.7l-0.5,8.2M513.9,624.5l-0.5,8.2M529.9,638.0L509.6,643.7M509.6,643.7l-0.5,8.2M513.9,642.5l-0.5,8.2M529.9,655.0L509.6,660.7M509.6,660.7l-0.5,8.2M513.9,659.5l-0.5,8.2M529.9,672.0L509.6,677.7M509.6,677.7l-0.5,8.2M513.9,676.5l-0.5,8.2M529.9,689.0L509.6,694.7M509.6,694.7l-0.5,8.2M513.9,693.5l-0.5,8.2M529.9,704.0L510.9,709.4M510.9,709.4l-0.5,8.7M515.1,708.2l-0.2,3.9M529.9,718.0L510.9,723.4M510.9,723.4l-0.5,8.7M515.1,722.2l-0.2,3.9M529.9,731.0L510.9,736.1M510.9,736.1l-0.4,8.8M515.1,735.0l-0.4,8.8M529.9,742.0L510.9,747.1M510.9,747.1l-0.4,8.8M515.1,746.0l-0.4,8.8M529.9,753.0L510.9,758.1M510.9,758.1l-0.4,8.8M515.1,757.0l-0.4,8.8M529.9,763.0L511.1,766.9M511.1,766.9l-0.7,8.8M515.5,766.0l-0.7,8.8M529.9,771.0L511.1,774.9M511.1,774.9l-0.7,8.8M515.5,774.0l-0.7,8.8M529.9,778.0L511.1,781.9M511.1,781.9l-0.7,8.8M515.5,781.0l-0.7,8.8M529.9,784.5L511.1,788.4M511.1,788.4l-0.7,8.8M515.5,787.5l-0.7,8.8M529.9,790.0L511.1,793.9M511.1,793.9l-0.7,8.8M515.5,793.0l-0.7,8.8M529.9,795.0L511.1,798.9M511.1,798.9l-0.7,8.8M515.5,798.0l-0.7,8.8M563.4,98.9L555.9,114.7M555.9,114.7l4.0,4.5M557.8,110.7l4.0,4.5M559.7,106.8l1.8,2.0M563.4,109.1L555.9,124.9M555.9,124.9l4.0,4.5M557.8,120.9l4.0,4.5M559.7,117.0l4.0,4.5M563.4,121.7L554.9,136.2M554.9,136.2l3.7,5.0M557.2,132.4l3.7,5.0M559.4,128.6l3.7,5.0M563.4,133.3L552.6,146.6M552.6,146.6l3.0,6.0M555.4,143.2l3.0,6.0M563.4,147.2L551.7,157.2M551.7,157.2l2.5,9.5M555.1,154.3l2.5,9.5M563.4,162.2L550.1,171.4M550.1,171.4l0.8,8.5M553.8,168.9l0.4,3.8M563.4,178.3L548.4,185.0M548.4,185.0l0.0,9.5M552.5,183.2l0.0,4.3M563.4,195.8L547.6,201.3M547.6,201.3l0.0,9.2M551.8,199.8l0.0,4.1M563.4,214.2L545.8,219.5M545.8,219.5l0.0,9.2M550.0,218.2l0.0,4.1M563.4,232.5L542.1,235.8M542.1,235.8l-1.5,8.7M546.4,235.1l-1.5,8.7M563.4,252.5L541.4,253.5M541.4,253.5l-2.3,8.4M545.8,253.3l-2.3,8.4M563.4,272.5L542.2,270.6M542.2,270.6l-3.7,8.0M546.6,271.0l-3.7,8.0M563.4,295.0L542.1,292.9M542.1,292.9l-4.5,7.7M546.5,293.3l-4.5,7.7M550.9,293.8l-2.0,3.5M563.4,318.3L541.8,316.7M541.8,316.7l-3.9,8.0M546.2,317.0l-3.9,8.0M550.6,317.4l-1.8,3.6M563.4,341.0L541.9,342.2M541.9,342.2l-3.2,7.8M546.3,341.9l-3.2,7.8M550.7,341.7l-1.4,3.5M563.4,363.5L542.2,366.8M542.2,366.8l-2.5,7.5M546.6,366.1l-2.5,7.5M550.9,365.4l-1.1,3.4M563.4,385.5L542.2,388.7M542.2,388.7l-2.5,7.7M546.6,388.0l-2.5,7.7M550.9,387.4l-1.1,3.5M563.4,407.5L541.9,410.6M541.9,410.6l-2.2,8.0M546.2,410.0l-2.2,8.0M550.6,409.4l-1.0,3.6M563.4,429.5L541.9,432.6M541.9,432.6l-2.2,8.0M546.2,432.0l-2.2,8.0M550.6,431.4l-1.0,3.6M563.4,451.5L541.9,454.6M541.9,454.6l-2.2,8.0M546.2,454.0l-2.2,8.0M550.6,453.4l-1.0,3.6M563.4,473.3L541.9,477.1M541.9,477.1l-1.9,8.0M546.2,476.3l-1.9,8.0M550.5,475.6l-0.8,3.6M563.4,496.0L541.9,500.4M541.9,500.4l-1.4,8.2M546.3,499.6l-1.4,8.2M550.6,498.7l-0.6,3.7M563.4,518.7L542.1,523.5M542.1,523.5l-0.7,8.2M546.4,522.5l-0.7,8.2M563.4,541.3L543.4,547.0M543.4,547.0l-0.5,8.2M547.6,545.8l-0.5,8.2M563.4,563.0L543.7,568.7M543.7,568.7l-0.5,8.2M547.9,567.5l-0.5,8.2M563.4,583.0L543.7,588.7M543.7,588.7l-0.5,8.2M547.9,587.5l-0.5,8.2M563.4,602.0L543.7,607.7M543.7,607.7l-0.5,8.2M547.9,606.5l-0.5,8.2M563.4,620.0L543.7,625.7M543.7,625.7l-0.5,8.2M547.9,624.5l-0.5,8.2M563.4,638.0L543.7,643.7M543.7,643.7l-0.5,8.2M547.9,642.5l-0.5,8.2M563.4,655.0L543.7,660.7M543.7,660.7l-0.5,8.2M547.9,659.5l-0.5,8.2M563.4,672.0L543.7,677.7M543.7,677.7l-0.5,8.2M547.9,676.5l-0.5,8.2M563.4,689.0L543.7,694.7M543.7,694.7l-0.5,8.2M547.9,693.5l-0.5,8.2M563.4,704.0L544.8,709.5M544.8,709.5l-0.5,8.7M549.0,708.3l-0.2,3.9M563.4,718.0L544.8,723.5M544.8,723.5l-0.5,8.7M549.0,722.3l-0.2,3.9M563.4,731.0L544.8,736.2M544.8,736.2l-0.4,8.8M549.0,735.0l-0.4,8.8M563.4,742.0L544.8,747.2M544.8,747.2l-0.4,8.8M549.0,746.0l-0.4,8.8M563.4,753.0L544.8,758.2M544.8,758.2l-0.4,8.8M549.0,757.0l-0.4,8.8M563.4,763.0L545.0,767.1M545.0,767.1l-0.6,8.8M549.3,766.2l-0.6,8.8M563.4,771.0L545.0,775.1M545.0,775.1l-0.6,8.8M549.3,774.2l-0.6,8.8M563.4,778.0L545.0,782.1M545.0,782.1l-0.6,8.8M549.3,781.2l-0.6,8.8M563.4,784.5L545.0,788.6M545.0,788.6l-0.6,8.8M549.3,787.7l-0.6,8.8M563.4,790.0L545.0,794.1M545.0,794.1l-0.6,8.8M549.3,793.2l-0.6,8.8M563.4,795.0L545.0,799.1M545.0,799.1l-0.6,8.8M549.3,798.2l-0.6,8.8M597.0,98.9L589.5,114.7M589.5,114.7l4.0,4.5M591.4,110.7l4.0,4.5M593.3,106.8l1.8,2.0M597.0,109.1L589.5,124.9M589.5,124.9l4.0,4.5M591.4,120.9l4.0,4.5M593.3,117.0l4.0,4.5M597.0,121.7L588.5,136.2M588.5,136.2l3.7,5.0M590.7,132.4l3.7,5.0M593.0,128.6l3.7,5.0M597.0,133.3L586.2,146.6M586.2,146.6l3.0,6.0M589.0,143.2l3.0,6.0M597.0,147.2L585.3,157.2M585.3,157.2l2.5,9.5M588.6,154.3l2.5,9.5M597.0,162.2L583.7,171.4M583.7,171.4l0.8,8.5M587.3,168.9l0.4,3.8M597.0,178.3L582.0,185.0M582.0,185.0l0.0,9.5M586.0,183.2l0.0,4.3M597.0,195.8L581.2,201.3M581.2,201.3l0.0,9.2M585.4,199.9l0.0,4.1M597.0,214.2L579.3,219.5M579.3,219.5l0.0,9.2M583.5,218.3l0.0,4.1M597.0,232.5L575.6,236.1M575.6,236.1l-1.3,8.7M579.9,235.3l-1.3,8.7M597.0,252.5L574.9,254.1M574.9,254.1l-2.1,8.5M579.2,253.8l-2.1,8.5M597.0,272.5L575.7,271.1M575.7,271.1l-3.6,8.0M580.1,271.4l-3.6,8.0M597.0,295.0L575.5,293.3M575.5,293.3l-4.3,7.8M579.9,293.7l-4.3,7.8M584.3,294.0l-1.9,3.5M597.0,318.3L575.2,317.1M575.2,317.1l-3.8,8.1M579.6,317.3l-3.8,8.1M584.0,317.6l-1.7,3.6M597.0,341.0L575.4,342.4M575.4,342.4l-3.1,7.8M579.8,342.1l-3.1,7.8M584.2,341.8l-1.4,3.5M597.0,363.5L575.7,366.9M575.7,366.9l-2.3,7.5M580.1,366.2l-2.3,7.5M584.4,365.5l-1.0,3.4M597.0,385.5L575.7,388.9M575.7,388.9l-2.3,7.7M580.1,388.2l-2.3,7.7M584.4,387.5l-1.0,3.4M597.0,407.5L575.4,410.8M575.4,410.8l-2.1,7.9M579.8,410.2l-2.1,7.9M584.1,409.5l-0.9,3.6M597.0,429.5L575.4,432.8M575.4,432.8l-2.1,7.9M579.8,432.2l-2.1,7.9M584.1,431.5l-0.9,3.6M597.0,451.5L575.4,454.8M575.4,454.8l-2.1,7.9M579.8,454.2l-2.1,7.9M584.1,453.5l-0.9,3.6M597.0,473.3L575.4,477.2M575.4,477.2l-1.8,7.9M579.8,476.5l-1.8,7.9M584.1,475.7l-0.8,3.6M597.0,496.0L575.5,500.6M575.5,500.6l-1.2,8.2M579.8,499.7l-1.2,8.2M584.1,498.8l-0.6,3.7M597.0,518.7L575.7,523.6M575.7,523.6l-0.6,8.2M580.0,522.6l-0.6,8.2M597.0,541.3L577.3,547.1M577.3,547.1l-0.5,8.3M581.5,545.9l-0.5,8.3M597.0,563.0L577.7,568.8M577.7,568.8l-0.5,8.3M581.9,567.6l-0.5,8.3M597.0,583.0L577.7,588.8M577.7,588.8l-0.5,8.3M581.9,587.6l-0.5,8.3M597.0,602.0L577.7,607.8M577.7,607.8l-0.5,8.3M581.9,606.6l-0.5,8.3M597.0,620.0L577.7,625.8M577.7,625.8l-0.5,8.3M581.9,624.6l-0.5,8.3M597.0,638.0L577.7,643.8M577.7,643.8l-0.5,8.3M581.9,642.6l-0.5,8.3M597.0,655.0L577.7,660.8M577.7,660.8l-0.5,8.3M581.9,659.6l-0.5,8.3M597.0,672.0L577.7,677.8M577.7,677.8l-0.5,8.3M581.9,676.6l-0.5,8.3M597.0,689.0L577.7,694.8M577.7,694.8l-0.5,8.3M581.9,693.6l-0.5,8.3M597.0,704.0L578.6,709.6M578.6,709.6l-0.5,8.7M582.8,708.3l-0.2,3.9M597.0,718.0L578.6,723.6M578.6,723.6l-0.5,8.7M582.8,722.3l-0.2,3.9M597.0,731.0L578.6,736.3M578.6,736.3l-0.4,8.8M582.9,735.1l-0.4,8.8M597.0,742.0L578.6,747.3M578.6,747.3l-0.4,8.8M582.9,746.1l-0.4,8.8M597.0,753.0L578.6,758.3M578.6,758.3l-0.4,8.8M582.9,757.1l-0.4,8.8M597.0,763.0L578.8,767.4M578.8,767.4l-0.6,8.8M583.1,766.3l-0.6,8.8M597.0,771.0L578.8,775.4M578.8,775.4l-0.6,8.8M583.1,774.3l-0.6,8.8M597.0,778.0L578.8,782.4M578.8,782.4l-0.6,8.8M583.1,781.3l-0.6,8.8M597.0,784.5L578.8,788.9M578.8,788.9l-0.6,8.8M583.1,787.8l-0.6,8.8M597.0,790.0L578.8,794.4M578.8,794.4l-0.6,8.8M583.1,793.3l-0.6,8.8M597.0,795.0L578.8,799.4M578.8,799.4l-0.6,8.8M583.1,798.3l-0.6,8.8M630.5,98.9L623.0,114.7M623.0,114.7l4.0,4.5M624.9,110.7l4.0,4.5M626.8,106.8l1.8,2.0M630.5,109.1L623.0,124.9M623.0,124.9l4.0,4.5M624.9,120.9l4.0,4.5M626.8,117.0l4.0,4.5M630.5,121.7L622.0,136.2M622.0,136.2l3.7,5.0M624.3,132.4l3.7,5.0M626.5,128.6l3.7,5.0M630.5,133.3L619.8,146.6M619.8,146.6l3.0,6.0M622.5,143.2l3.0,6.0M630.5,147.2L618.8,157.2M618.8,157.2l2.5,9.5M622.2,154.3l2.5,9.5M630.5,162.2L617.2,171.4M617.2,171.4l0.8,8.5M620.9,168.9l0.4,3.8M630.5,178.3L615.5,185.0M615.5,185.0l0.0,9.5M619.6,183.2l0.0,4.3M630.5,195.8L614.8,201.4M614.8,201.4l0.0,9.1M618.9,199.9l0.0,4.1M630.5,214.2L612.7,219.6M612.7,219.6l0.0,9.1M616.9,218.3l0.0,4.1M630.5,232.5L609.1,236.3M609.1,236.3l-1.1,8.8M613.4,235.6l-1.1,8.8M630.5,252.5L608.3,254.7M608.3,254.7l-1.9,8.6M612.7,254.2l-1.9,8.6M630.5,272.5L609.2,271.6M609.2,271.6l-3.4,8.1M613.6,271.8l-3.4,8.1M630.5,295.0L608.9,293.7M608.9,293.7l-4.1,7.9M613.3,294.0l-4.1,7.9M617.7,294.2l-1.9,3.6M630.5,318.3L608.7,317.4M608.7,317.4l-3.7,8.1M613.1,317.6l-3.7,8.1M617.5,317.8l-1.7,3.6M630.5,341.0L608.9,342.6M608.9,342.6l-3.0,7.8M613.3,342.2l-3.0,7.8M617.7,341.9l-1.4,3.5M630.5,363.5L609.2,367.1M609.2,367.1l-2.1,7.5M613.6,366.4l-2.1,7.5M617.9,365.6l-1.0,3.4M630.5,385.5L609.2,389.1M609.2,389.1l-2.2,7.6M613.6,388.3l-2.2,7.6M617.9,387.6l-1.0,3.4M630.5,407.5L609.0,411.0M609.0,411.0l-2.0,7.8M613.3,410.3l-2.0,7.8M617.7,409.6l-0.9,3.5M630.5,429.5L609.0,433.0M609.0,433.0l-2.0,7.8M613.3,432.3l-2.0,7.8M617.7,431.6l-0.9,3.5M630.5,451.5L609.0,455.0M609.0,455.0l-2.0,7.8M613.3,454.3l-2.0,7.8M617.7,453.6l-0.9,3.5M630.5,473.3L609.0,477.4M609.0,477.4l-1.6,7.8M613.3,476.6l-1.6,7.8M617.6,475.8l-0.7,3.5M630.5,496.0L609.0,500.8M609.0,500.8l-1.1,8.2M613.3,499.8l-1.1,8.2M617.6,498.9l-0.5,3.7M630.5,518.7L609.2,523.7M609.2,523.7l-0.5,8.1M613.5,522.7l-0.5,8.1M630.5,541.3L611.2,547.2M611.2,547.2l-0.5,8.4M615.4,545.9l-0.5,8.4M630.5,563.0L611.7,568.9M611.7,568.9l-0.5,8.4M615.9,567.6l-0.2,3.8M630.5,583.0L611.7,588.9M611.7,588.9l-0.5,8.4M615.9,587.6l-0.2,3.8M630.5,602.0L611.7,607.9M611.7,607.9l-0.5,8.4M615.9,606.6l-0.2,3.8M630.5,620.0L611.7,625.9M611.7,625.9l-0.5,8.4M615.9,624.6l-0.2,3.8M630.5,638.0L611.7,643.9M611.7,643.9l-0.5,8.4M615.9,642.6l-0.2,3.8M630.5,655.0L611.7,660.9M611.7,660.9l-0.5,8.4M615.9,659.6l-0.2,3.8M630.5,672.0L611.7,677.9M611.7,677.9l-0.5,8.4M615.9,676.6l-0.2,3.8M630.5,689.0L611.7,694.9M611.7,694.9l-0.5,8.4M615.9,693.6l-0.2,3.8M630.5,704.0L612.5,709.7M612.5,709.7l-0.5,8.7M616.7,708.4l-0.2,3.9M630.5,718.0L612.5,723.7M612.5,723.7l-0.5,8.7M616.7,722.4l-0.2,3.9M630.5,731.0L612.5,736.4M612.5,736.4l-0.4,8.8M616.7,735.1l-0.4,8.8M630.5,742.0L612.5,747.4M612.5,747.4l-0.4,8.8M616.7,746.1l-0.4,8.8M630.5,753.0L612.5,758.4M612.5,758.4l-0.4,8.8M616.7,757.1l-0.4,8.8M630.5,763.0L612.6,767.6M612.6,767.6l-0.5,8.8M616.9,766.5l-0.5,8.8M630.5,771.0L612.6,775.6M612.6,775.6l-0.5,8.8M616.9,774.5l-0.5,8.8M630.5,778.0L612.6,782.6M612.6,782.6l-0.5,8.8M616.9,781.5l-0.5,8.8M630.5,784.5L612.6,789.1M612.6,789.1l-0.5,8.8M616.9,788.0l-0.5,8.8M630.5,790.0L612.6,794.6M612.6,794.6l-0.5,8.8M616.9,793.5l-0.5,8.8M630.5,795.0L612.6,799.6M612.6,799.6l-0.5,8.8M616.9,798.5l-0.5,8.8M664.1,98.9L656.6,114.7M656.6,114.7l4.0,4.5M658.5,110.7l4.0,4.5M660.4,106.8l1.8,2.0M664.1,109.1L656.6,124.9M656.6,124.9l4.0,4.5M658.5,120.9l4.0,4.5M660.4,117.0l4.0,4.5M664.1,121.7L655.6,136.2M655.6,136.2l3.7,5.0M657.8,132.4l3.7,5.0M660.1,128.6l3.7,5.0M664.1,133.3L653.3,146.6M653.3,146.6l3.0,6.0M656.1,143.2l3.0,6.0M664.1,147.2L652.4,157.2M652.4,157.2l2.5,9.5M655.7,154.3l2.5,9.5M664.1,162.2L650.8,171.4M650.8,171.4l0.8,8.5M654.4,168.9l0.4,3.8M664.1,178.3L649.1,185.0M649.1,185.0l0.0,9.5M653.1,183.2l0.0,4.3M664.1,195.8L648.3,201.4M648.3,201.4l0.0,9.1M652.4,199.9l0.0,4.1M664.1,214.2L646.2,219.7M646.2,219.7l0.0,9.1M650.4,218.4l0.0,4.1M664.1,232.5L642.6,236.6M642.6,236.6l-0.8,8.8M646.9,235.8l-0.8,8.8M664.1,252.5L641.8,255.2M641.8,255.2l-1.6,8.7M646.2,254.7l-1.6,8.7M664.1,272.5L642.7,272.2M642.7,272.2l-3.2,8.1M647.1,272.2l-3.2,8.1M664.1,295.0L642.3,294.1M642.3,294.1l-4.0,8.0M646.7,294.3l-4.0,8.0M651.1,294.5l-1.8,3.6M664.1,318.3L642.1,317.7M642.1,317.7l-3.6,8.1M646.5,317.9l-3.6,8.1M650.9,318.0l-1.6,3.7M664.1,341.0L642.4,342.7M642.4,342.7l-2.9,7.9M646.7,342.4l-2.9,7.9M651.1,342.0l-1.3,3.5M664.1,363.5L642.8,367.3M642.8,367.3l-2.0,7.5M647.1,366.5l-2.0,7.5M651.4,365.8l-0.9,3.4M664.1,385.5L642.8,389.2M642.8,389.2l-2.0,7.6M647.1,388.5l-2.0,7.6M651.4,387.7l-0.9,3.4M664.1,407.5L642.6,411.2M642.6,411.2l-1.8,7.8M646.9,410.5l-1.8,7.8M651.2,409.7l-0.8,3.5M664.1,429.5L642.6,433.2M642.6,433.2l-1.8,7.8M646.9,432.5l-1.8,7.8M651.2,431.7l-0.8,3.5M664.1,451.5L642.6,455.2M642.6,455.2l-1.8,7.8M646.9,454.5l-1.8,7.8M651.2,453.7l-0.8,3.5M664.1,473.3L642.6,477.6M642.6,477.6l-1.5,7.8M646.9,476.7l-1.5,7.8M651.2,475.9l-0.7,3.5M664.1,496.0L642.6,500.9M642.6,500.9l-1.0,8.1M646.9,499.9l-1.0,8.1M651.2,498.9l-0.4,3.7M664.1,518.7L642.8,523.8M642.8,523.8l-0.4,8.1M647.1,522.8l-0.4,8.1M664.1,541.3L645.1,547.3M645.1,547.3l-0.5,8.5M649.3,546.0l-0.5,8.5M664.1,563.0L645.7,569.0M645.7,569.0l-0.5,8.5M649.9,567.6l-0.2,3.8M664.1,583.0L645.7,589.0M645.7,589.0l-0.5,8.5M649.9,587.6l-0.2,3.8M664.1,602.0L645.7,608.0M645.7,608.0l-0.5,8.5M649.9,606.6l-0.2,3.8M664.1,620.0L645.7,626.0M645.7,626.0l-0.5,8.5M649.9,624.6l-0.2,3.8M664.1,638.0L645.7,644.0M645.7,644.0l-0.5,8.5M649.9,642.6l-0.2,3.8M664.1,655.0L645.7,661.0M645.7,661.0l-0.5,8.5M649.9,659.6l-0.2,3.8M664.1,672.0L645.7,678.0M645.7,678.0l-0.5,8.5M649.9,676.6l-0.2,3.8M664.1,689.0L645.7,695.0M645.7,695.0l-0.5,8.5M649.9,693.6l-0.2,3.8M664.1,704.0L646.3,709.9M646.3,709.9l-0.5,8.7M650.5,708.5l-0.2,3.9M664.1,718.0L646.3,723.9M646.3,723.9l-0.5,8.7M650.5,722.5l-0.2,3.9M664.1,731.0L646.3,736.5M646.3,736.5l-0.3,8.9M650.6,735.2l-0.3,8.9M664.1,742.0L646.3,747.5M646.3,747.5l-0.3,8.9M650.6,746.2l-0.3,8.9M664.1,753.0L646.3,758.5M646.3,758.5l-0.3,8.9M650.6,757.2l-0.3,8.9M664.1,763.0L646.5,767.9M646.5,767.9l-0.5,8.9M650.7,766.7l-0.5,8.9M664.1,771.0L646.5,775.9M646.5,775.9l-0.5,8.9M650.7,774.7l-0.5,8.9M664.1,778.0L646.5,782.9M646.5,782.9l-0.5,8.9M650.7,781.7l-0.5,8.9M664.1,784.5L646.5,789.4M646.5,789.4l-0.5,8.9M650.7,788.2l-0.5,8.9M664.1,790.0L646.5,794.9M646.5,794.9l-0.5,8.9M650.7,793.7l-0.5,8.9M664.1,795.0L646.5,799.9M646.5,799.9l-0.5,8.9M650.7,798.7l-0.5,8.9M697.6,98.9L690.1,114.7M690.1,114.7l4.0,4.5M692.0,110.7l4.0,4.5M693.9,106.8l1.8,2.0M697.6,109.1L690.1,124.9M690.1,124.9l4.0,4.5M692.0,120.9l4.0,4.5M693.9,117.0l4.0,4.5M697.6,121.7L689.1,136.2M689.1,136.2l3.7,5.0M691.4,132.4l3.7,5.0M693.6,128.6l3.7,5.0M697.6,133.3L686.8,146.6M686.8,146.6l3.0,6.0M689.6,143.2l3.0,6.0M697.6,147.2L685.9,157.2M685.9,157.2l2.5,9.5M689.3,154.3l2.5,9.5M697.6,162.2L684.3,171.4M684.3,171.4l0.8,8.5M688.0,168.9l0.4,3.8M697.6,178.3L682.6,185.0M682.6,185.0l0.0,9.5M686.7,183.2l0.0,4.3M697.6,195.8L681.8,201.5M681.8,201.5l0.0,9.1M686.0,200.0l0.0,4.1M697.6,214.2L679.6,219.8M679.6,219.8l0.0,9.1M683.8,218.5l0.0,4.1M697.6,232.5L676.1,236.9M676.1,236.9l-0.6,8.8M680.4,236.0l-0.6,8.8M697.6,252.5L675.3,255.8M675.3,255.8l-1.4,8.7M679.7,255.2l-1.4,8.7M697.6,272.5L676.2,272.7M676.2,272.7l-3.0,8.2M680.6,272.6l-3.0,8.2M697.6,295.0L675.6,294.6M675.6,294.6l-3.8,8.1M680.0,294.6l-3.8,8.1M684.4,294.7l-1.7,3.6M697.6,318.3L675.5,318.1M675.5,318.1l-3.6,8.2M679.9,318.1l-3.6,8.2M684.3,318.2l-1.6,3.7M697.6,341.0L675.8,342.9M675.8,342.9l-2.8,7.9M680.2,342.5l-2.8,7.9M684.6,342.2l-1.3,3.6M697.6,363.5L676.3,367.5M676.3,367.5l-1.8,7.5M680.6,366.7l-1.8,7.5M684.9,365.9l-0.8,3.4M697.6,385.5L676.3,389.4M676.3,389.4l-1.8,7.6M680.6,388.6l-1.8,7.6M684.9,387.8l-0.8,3.4M697.6,407.5L676.1,411.4M676.1,411.4l-1.7,7.7M680.4,410.6l-1.7,7.7M684.8,409.8l-0.8,3.5M697.6,429.5L676.1,433.4M676.1,433.4l-1.7,7.7M680.4,432.6l-1.7,7.7M684.8,431.8l-0.8,3.5M697.6,451.5L676.1,455.4M676.1,455.4l-1.7,7.7M680.4,454.6l-1.7,7.7M684.8,453.8l-0.8,3.5M697.6,473.3L676.1,477.8M676.1,477.8l-1.4,7.7M680.4,476.9l-1.4,7.7M684.7,476.0l-0.6,3.5M697.6,496.0L676.1,501.1M676.1,501.1l-0.9,8.1M680.4,500.0l-0.9,8.1M684.7,499.0l-0.4,3.6M697.6,518.7L676.3,523.9M676.3,523.9l-0.3,8.1M680.6,522.9l-0.3,8.1M697.6,541.3L679.0,547.4M679.0,547.4l-0.5,8.6M683.2,546.0l-0.5,8.6M697.6,563.0L679.7,569.1M679.7,569.1l-0.5,8.6M683.9,567.6l-0.2,3.9M697.6,583.0L679.7,589.1M679.7,589.1l-0.5,8.6M683.9,587.6l-0.2,3.9M697.6,602.0L679.7,608.1M679.7,608.1l-0.5,8.6M683.9,606.6l-0.2,3.9M697.6,620.0L679.7,626.1M679.7,626.1l-0.5,8.6M683.9,624.6l-0.2,3.9M697.6,638.0L679.7,644.1M679.7,644.1l-0.5,8.6M683.9,642.6l-0.2,3.9M697.6,655.0L679.7,661.1M679.7,661.1l-0.5,8.6M683.9,659.6l-0.2,3.9M697.6,672.0L679.7,678.1M679.7,678.1l-0.5,8.6M683.9,676.6l-0.2,3.9M697.6,689.0L679.7,695.1M679.7,695.1l-0.5,8.6M683.9,693.6l-0.2,3.9M697.6,704.0L680.2,710.0M680.2,710.0l-0.5,8.7M684.4,708.5l-0.2,3.9M697.6,718.0L680.2,724.0M680.2,724.0l-0.5,8.7M684.4,722.5l-0.2,3.9M697.6,731.0L680.2,736.6M680.2,736.6l-0.3,8.9M684.4,735.2l-0.3,8.9M697.6,742.0L680.2,747.6M680.2,747.6l-0.3,8.9M684.4,746.2l-0.3,8.9M697.6,753.0L680.2,758.6M680.2,758.6l-0.3,8.9M684.4,757.2l-0.3,8.9M697.6,763.0L680.3,768.1M680.3,768.1l-0.4,8.9M684.5,766.8l-0.4,8.9M697.6,771.0L680.3,776.1M680.3,776.1l-0.4,8.9M684.5,774.8l-0.4,8.9M697.6,778.0L680.3,783.1M680.3,783.1l-0.4,8.9M684.5,781.8l-0.4,8.9M697.6,784.5L680.3,789.6M680.3,789.6l-0.4,8.9M684.5,788.3l-0.4,8.9M697.6,790.0L680.3,795.1M680.3,795.1l-0.4,8.9M684.5,793.8l-0.4,8.9M697.6,795.0L680.3,800.1M680.3,800.1l-0.4,8.9M684.5,798.8l-0.4,8.9M731.2,98.9L723.7,114.7M723.7,114.7l4.0,4.5M725.6,110.7l4.0,4.5M727.5,106.8l1.8,2.0M731.2,109.1L723.7,124.9M723.7,124.9l4.0,4.5M725.6,120.9l4.0,4.5M727.5,117.0l4.0,4.5M731.2,121.7L722.7,136.2M722.7,136.2l3.7,5.0M724.9,132.4l3.7,5.0M727.2,128.6l3.7,5.0M731.2,133.3L720.4,146.6M720.4,146.6l3.0,6.0M723.2,143.2l3.0,6.0M731.2,147.2L719.5,157.2M719.5,157.2l2.5,9.5M722.8,154.3l2.5,9.5M731.2,162.2L717.9,171.4M717.9,171.4l0.8,8.5M721.5,168.9l0.4,3.8M731.2,178.3L716.2,185.0M716.2,185.0l0.0,9.5M720.2,183.2l0.0,4.3M731.2,195.8L715.4,201.5M715.4,201.5l0.0,9.1M719.5,200.0l0.0,4.1M731.2,214.2L713.1,219.8M713.1,219.8l0.0,9.1M717.3,218.5l0.0,4.1M731.2,232.5L709.6,237.2M709.6,237.2l-0.4,8.9M713.9,236.3l-0.4,8.9M731.2,252.5L708.8,256.4M708.8,256.4l-1.2,8.8M713.2,255.6l-1.2,8.8M731.2,272.5L709.6,273.2M709.6,273.2l-2.8,8.2M714.0,273.0l-2.8,8.2M731.2,295.0L709.0,295.0M709.0,295.0l-3.6,8.1M713.4,295.0l-3.6,8.1M717.8,295.0l-1.6,3.7M731.2,318.3L708.9,318.4M708.9,318.4l-3.5,8.2M713.3,318.4l-3.5,8.2M717.7,318.4l-1.6,3.7M731.2,341.0L709.3,343.1M709.3,343.1l-2.7,7.9M713.7,342.7l-2.7,7.9M718.1,342.3l-1.2,3.6M731.2,363.5L709.8,367.6M709.8,367.6l-1.6,7.5M714.1,366.8l-1.6,7.5M718.4,366.0l-0.7,3.4M731.2,385.5L709.8,389.6M709.8,389.6l-1.6,7.5M714.1,388.8l-1.6,7.5M718.4,388.0l-0.7,3.4M731.2,407.5L709.7,411.6M709.7,411.6l-1.6,7.6M714.0,410.8l-1.6,7.6M718.3,410.0l-0.7,3.4M731.2,429.5L709.7,433.6M709.7,433.6l-1.6,7.6M714.0,432.8l-1.6,7.6M718.3,432.0l-0.7,3.4M731.2,451.5L709.7,455.6M709.7,455.6l-1.6,7.6M714.0,454.8l-1.6,7.6M718.3,454.0l-0.7,3.4M731.2,473.3L709.7,477.9M709.7,477.9l-1.2,7.6M714.0,477.0l-1.2,7.6M718.3,476.1l-0.6,3.4M731.2,496.0L709.7,501.2M709.7,501.2l-0.8,8.1M714.0,500.2l-0.8,8.1M718.3,499.1l-0.3,3.6M731.2,518.7L709.9,524.0M709.9,524.0l-0.2,8.1M714.2,522.9l-0.2,8.1M731.2,541.3L713.0,547.4M713.0,547.4l-0.5,8.6M717.1,546.0l-0.5,8.6M731.2,563.0L713.8,569.1M713.8,569.1l-0.5,8.6M717.9,567.7l-0.2,3.9M731.2,583.0L713.8,589.1M713.8,589.1l-0.5,8.6M717.9,587.7l-0.2,3.9M731.2,602.0L713.8,608.1M713.8,608.1l-0.5,8.6M717.9,606.7l-0.2,3.9M731.2,620.0L713.8,626.1M713.8,626.1l-0.5,8.6M717.9,624.7l-0.2,3.9M731.2,638.0L713.8,644.1M713.8,644.1l-0.5,8.6M717.9,642.7l-0.2,3.9M731.2,655.0L713.8,661.1M713.8,661.1l-0.5,8.6M717.9,659.7l-0.2,3.9M731.2,672.0L713.8,678.1M713.8,678.1l-0.5,8.6M717.9,676.7l-0.2,3.9M731.2,689.0L713.8,695.1M713.8,695.1l-0.5,8.6M717.9,693.7l-0.2,3.9M731.2,704.0L714.1,710.1M714.1,710.1l-0.5,8.8M718.2,708.6l-0.2,3.9M731.2,718.0L714.1,724.1M714.1,724.1l-0.5,8.8M718.2,722.6l-0.2,3.9M731.2,731.0L714.1,736.6M714.1,736.6l-0.3,8.9M718.3,735.3l-0.3,8.9M731.2,742.0L714.1,747.6M714.1,747.6l-0.3,8.9M718.3,746.3l-0.3,8.9M731.2,753.0L714.1,758.6M714.1,758.6l-0.3,8.9M718.3,757.3l-0.3,8.9M731.2,763.0L714.1,768.3M714.1,768.3l-0.4,8.9M718.3,767.0l-0.4,8.9M731.2,771.0L714.1,776.3M714.1,776.3l-0.4,8.9M718.3,775.0l-0.4,8.9M731.2,778.0L714.1,783.3M714.1,783.3l-0.4,8.9M718.3,782.0l-0.4,8.9M731.2,784.5L714.1,789.8M714.1,789.8l-0.4,8.9M718.3,788.5l-0.4,8.9M731.2,790.0L714.1,795.3M714.1,795.3l-0.4,8.9M718.3,794.0l-0.4,8.9M731.2,795.0L714.1,800.3M714.1,800.3l-0.4,8.9M718.3,799.0l-0.4,8.9M764.7,98.9L757.2,114.7M757.2,114.7l4.0,4.5M759.1,110.7l4.0,4.5M761.0,106.8l1.8,2.0M764.7,109.1L757.2,124.9M757.2,124.9l4.0,4.5M759.1,120.9l4.0,4.5M761.0,117.0l4.0,4.5M764.7,121.7L756.2,136.2M756.2,136.2l3.7,5.0M758.5,132.4l3.7,5.0M760.7,128.6l3.7,5.0M764.7,133.3L753.9,146.6M753.9,146.6l3.0,6.0M756.7,143.2l3.0,6.0M764.7,147.2L753.0,157.2M753.0,157.2l2.5,9.5M756.4,154.3l2.5,9.5M764.7,162.2L751.4,171.4M751.4,171.4l0.8,8.5M755.1,168.9l0.4,3.8M764.7,178.3L749.7,185.0M749.7,185.0l0.0,9.5M753.8,183.2l0.0,4.3M764.7,195.8L748.9,201.6M748.9,201.6l0.0,9.0M753.1,200.0l0.0,4.1M764.7,214.2L746.5,219.9M746.5,219.9l0.0,9.0M750.7,218.6l0.0,4.1M764.7,232.5L743.1,237.5M743.1,237.5l-0.2,8.9M747.4,236.5l-0.2,8.9M764.7,252.5L742.3,256.9M742.3,256.9l-1.0,8.9M746.6,256.1l-1.0,8.9M764.7,272.5L743.1,273.7M743.1,273.7l-2.7,8.3M747.5,273.4l-2.7,8.3M764.7,295.0L742.4,295.4M742.4,295.4l-3.5,8.2M746.8,295.3l-3.5,8.2M751.2,295.2l-1.6,3.7M764.7,318.3L742.4,318.8M742.4,318.8l-3.4,8.3M746.8,318.7l-3.4,8.3M751.2,318.6l-1.5,3.7M764.7,341.0L742.8,343.3M742.8,343.3l-2.6,8.0M747.2,342.8l-2.6,8.0M751.6,342.4l-1.2,3.6M764.7,363.5L743.3,367.8M743.3,367.8l-1.5,7.5M747.6,367.0l-1.5,7.5M751.9,366.1l-0.7,3.4M764.7,385.5L743.3,389.8M743.3,389.8l-1.5,7.5M747.6,388.9l-1.5,7.5M751.9,388.1l-0.7,3.4M764.7,407.5L743.2,411.8M743.2,411.8l-1.4,7.6M747.6,410.9l-1.4,7.6M751.9,410.1l-0.6,3.4M764.7,429.5L743.2,433.8M743.2,433.8l-1.4,7.6M747.6,432.9l-1.4,7.6M751.9,432.1l-0.6,3.4M764.7,451.5L743.2,455.8M743.2,455.8l-1.4,7.6M747.6,454.9l-1.4,7.6M751.9,454.1l-0.6,3.4M764.7,473.3L743.2,478.1M743.2,478.1l-1.1,7.6M747.5,477.2l-1.1,7.6M751.8,476.2l-0.5,3.4M764.7,496.0L743.2,501.4M743.2,501.4l-0.6,8.0M747.5,500.3l-0.6,8.0M751.8,499.2l-0.3,3.6M764.7,518.7L743.4,524.1M743.4,524.1l-0.1,8.0M747.7,523.0l-0.1,8.0M764.7,541.3L746.9,547.5M746.9,547.5l-0.5,8.7M751.0,546.1l-0.5,8.7M764.7,563.0L747.8,569.2M747.8,569.2l-0.5,8.7M751.9,567.7l-0.2,3.9M764.7,583.0L747.8,589.2M747.8,589.2l-0.5,8.7M751.9,587.7l-0.2,3.9M764.7,602.0L747.8,608.2M747.8,608.2l-0.5,8.7M751.9,606.7l-0.2,3.9M764.7,620.0L747.8,626.2M747.8,626.2l-0.5,8.7M751.9,624.7l-0.2,3.9M764.7,638.0L747.8,644.2M747.8,644.2l-0.5,8.7M751.9,642.7l-0.2,3.9M764.7,655.0L747.8,661.2M747.8,661.2l-0.5,8.7M751.9,659.7l-0.2,3.9M764.7,672.0L747.8,678.2M747.8,678.2l-0.5,8.7M751.9,676.7l-0.2,3.9M764.7,689.0L747.8,695.2M747.8,695.2l-0.5,8.7M751.9,693.7l-0.2,3.9M764.7,704.0L747.9,710.2M747.9,710.2l-0.5,8.8M752.1,708.7l-0.2,4.0M764.7,718.0L747.9,724.2M747.9,724.2l-0.5,8.8M752.1,722.7l-0.2,4.0M764.7,731.0L747.9,736.7M747.9,736.7l-0.3,9.0M752.1,735.3l-0.3,9.0M764.7,742.0L747.9,747.7M747.9,747.7l-0.3,9.0M752.1,746.3l-0.3,9.0M764.7,753.0L747.9,758.7M747.9,758.7l-0.3,9.0M752.1,757.3l-0.3,9.0M764.7,763.0L748.0,768.6M748.0,768.6l-0.3,9.0M752.1,767.2l-0.3,9.0M764.7,771.0L748.0,776.6M748.0,776.6l-0.3,9.0M752.1,775.2l-0.3,9.0M764.7,778.0L748.0,783.6M748.0,783.6l-0.3,9.0M752.1,782.2l-0.3,9.0M764.7,784.5L748.0,790.1M748.0,790.1l-0.3,9.0M752.1,788.7l-0.3,9.0M764.7,790.0L748.0,795.6M748.0,795.6l-0.3,9.0M752.1,794.2l-0.3,9.0M764.7,795.0L748.0,800.6M748.0,800.6l-0.3,9.0M752.1,799.2l-0.3,9.0M798.3,98.9L790.8,114.7M790.8,114.7l4.0,4.5M792.7,110.7l4.0,4.5M794.6,106.8l1.8,2.0M798.3,109.1L790.8,124.9M790.8,124.9l4.0,4.5M792.7,120.9l4.0,4.5M794.6,117.0l4.0,4.5M798.3,121.7L789.8,136.2M789.8,136.2l3.7,5.0M792.0,132.4l3.7,5.0M794.3,128.6l3.7,5.0M798.3,133.3L787.5,146.6M787.5,146.6l3.0,6.0M790.3,143.2l3.0,6.0M798.3,147.2L786.6,157.2M786.6,157.2l2.5,9.5M789.9,154.3l2.5,9.5M798.3,162.2L785.0,171.4M785.0,171.4l0.8,8.5M788.6,168.9l0.4,3.8M798.3,178.3L783.3,185.0M783.3,185.0l0.0,9.5M787.3,183.2l0.0,4.3M798.3,195.8L782.5,201.6M782.5,201.6l0.0,9.0M786.6,200.1l0.0,4.0M798.3,214.2L780.0,220.0M780.0,220.0l0.0,9.0M784.2,218.7l0.0,4.0M798.3,232.5L776.6,237.8M776.6,237.8l0.0,9.0M780.9,236.8l0.0,9.0M798.3,252.5L775.8,257.5M775.8,257.5l-0.8,9.0M780.1,256.5l-0.8,9.0M798.3,272.5L776.6,274.2M776.6,274.2l-2.5,8.3M781.0,273.9l-2.5,8.3M798.3,295.0L775.8,295.8M775.8,295.8l-3.3,8.3M780.2,295.6l-3.3,8.3M784.6,295.5l-1.5,3.7M798.3,318.3L775.8,319.1M775.8,319.1l-3.3,8.3M780.2,318.9l-3.3,8.3M784.6,318.8l-1.5,3.7M798.3,341.0L776.3,343.5M776.3,343.5l-2.5,8.0M780.7,343.0l-2.5,8.0M785.0,342.5l-1.1,3.6M798.3,363.5L776.8,368.0M776.8,368.0l-1.3,7.5M781.1,367.1l-1.3,7.5M785.4,366.2l-0.6,3.4M798.3,385.5L776.8,390.0M776.8,390.0l-1.3,7.5M781.1,389.1l-1.3,7.5M785.4,388.2l-0.6,3.4M798.3,407.5L776.8,412.0M776.8,412.0l-1.3,7.5M781.1,411.1l-1.3,7.5M785.4,410.2l-0.6,3.4M798.3,429.5L776.8,434.0M776.8,434.0l-1.3,7.5M781.1,433.1l-1.3,7.5M785.4,432.2l-0.6,3.4M798.3,451.5L776.8,456.0M776.8,456.0l-1.3,7.5M781.1,455.1l-1.3,7.5M785.4,454.2l-0.6,3.4M798.3,473.3L776.8,478.3M776.8,478.3l-1.0,7.5M781.1,477.3l-1.0,7.5M785.4,476.3l-0.5,3.4M798.3,496.0L776.8,501.5M776.8,501.5l-0.5,8.0M781.1,500.4l-0.5,8.0M785.3,499.3l-0.2,3.6M798.3,518.7L777.0,524.2M777.0,524.2l0.0,8.0M781.3,523.1l0.0,8.0M798.3,541.3L780.8,547.6M780.8,547.6l-0.5,8.8M784.9,546.1l-0.5,8.8M798.3,563.0L781.8,569.3M781.8,569.3l-0.5,8.8M785.9,567.7l-0.2,4.0M798.3,583.0L781.8,589.3M781.8,589.3l-0.5,8.8M785.9,587.7l-0.2,4.0M798.3,602.0L781.8,608.3M781.8,608.3l-0.5,8.8M785.9,606.7l-0.2,4.0M798.3,620.0L781.8,626.3M781.8,626.3l-0.5,8.8M785.9,624.7l-0.2,4.0M798.3,638.0L781.8,644.3M781.8,644.3l-0.5,8.8M785.9,642.7l-0.2,4.0M798.3,655.0L781.8,661.3M781.8,661.3l-0.5,8.8M785.9,659.7l-0.2,4.0M798.3,672.0L781.8,678.3M781.8,678.3l-0.5,8.8M785.9,676.7l-0.2,4.0M798.3,689.0L781.8,695.3M781.8,695.3l-0.5,8.8M785.9,693.7l-0.2,4.0M798.3,704.0L781.8,710.3M781.8,710.3l-0.5,8.8M785.9,708.7l-0.2,4.0M798.3,718.0L781.8,724.3M781.8,724.3l-0.5,8.8M785.9,722.7l-0.2,4.0M798.3,731.0L781.8,736.8M781.8,736.8l-0.3,9.0M786.0,735.3l-0.3,9.0M798.3,742.0L781.8,747.8M781.8,747.8l-0.3,9.0M786.0,746.3l-0.3,9.0M798.3,753.0L781.8,758.8M781.8,758.8l-0.3,9.0M786.0,757.3l-0.3,9.0M798.3,763.0L781.8,768.8M781.8,768.8l-0.3,9.0M786.0,767.3l-0.3,9.0M798.3,771.0L781.8,776.8M781.8,776.8l-0.3,9.0M786.0,775.3l-0.3,9.0M798.3,778.0L781.8,783.8M781.8,783.8l-0.3,9.0M786.0,782.3l-0.3,9.0M798.3,784.5L781.8,790.3M781.8,790.3l-0.3,9.0M786.0,788.8l-0.3,9.0M798.3,790.0L781.8,795.8M781.8,795.8l-0.3,9.0M786.0,794.3l-0.3,9.0M798.3,795.0L781.8,800.8M781.8,800.8l-0.3,9.0M786.0,799.3l-0.3,9.0"/>
</g>
<path d="M94.0,798.5 L130.0,798.5 L138.0,796.5 L146.0,794.0 L152.0,792.5 L158.0,792.5 L166.0,794.5 L174.0,797.0 L180.0,798.5 L805.0,798.5" fill="none" stroke="#000" stroke-width="2" shape-rendering="crispEdges"/>
<g fill="none" stroke="#000" stroke-width="1" shape-rendering="crispEdges">
<rect x="94.5" y="98.5" width="710.0" height="711.0"/>
<path d="M94.5,106.5h5 M804.5,106.5h-5 M94.5,114.5h5 M804.5,114.5h-5 M94.5,122.5h5 M804.5,122.5h-5 M94.5,130.5h5 M804.5,130.5h-5 M94.5,138.5h5 M804.5,138.5h-5 M94.5,146.5h5 M804.5,146.5h-5 M94.5,154.5h5 M804.5,154.5h-5 M94.5,162.5h5 M804.5,162.5h-5 M94.5,170.5h5 M804.5,170.5h-5 M94.5,178.5h10 M804.5,178.5h-10 M94.5,185.5h5 M804.5,185.5h-5 M94.5,193.5h5 M804.5,193.5h-5 M94.5,201.5h5 M804.5,201.5h-5 M94.5,209.5h5 M804.5,209.5h-5 M94.5,217.5h5 M804.5,217.5h-5 M94.5,225.5h5 M804.5,225.5h-5 M94.5,233.5h5 M804.5,233.5h-5 M94.5,241.5h5 M804.5,241.5h-5 M94.5,249.5h5 M804.5,249.5h-5 M94.5,256.5h10 M804.5,256.5h-10 M94.5,264.5h5 M804.5,264.5h-5 M94.5,272.5h5 M804.5,272.5h-5 M94.5,280.5h5 M804.5,280.5h-5 M94.5,288.5h5 M804.5,288.5h-5 M94.5,296.5h5 M804.5,296.5h-5 M94.5,304.5h5 M804.5,304.5h-5 M94.5,312.5h5 M804.5,312.5h-5 M94.5,320.5h5 M804.5,320.5h-5 M94.5,328.5h5 M804.5,328.5h-5 M94.5,336.5h10 M804.5,336.5h-10 M94.5,343.5h5 M804.5,343.5h-5 M94.5,351.5h5 M804.5,351.5h-5 M94.5,359.5h5 M804.5,359.5h-5 M94.5,367.5h5 M804.5,367.5h-5 M94.5,375.5h5 M804.5,375.5h-5 M94.5,383.5h5 M804.5,383.5h-5 M94.5,391.5h5 M804.5,391.5h-5 M94.5,399.5h5 M804.5,399.5h-5 M94.5,407.5h5 M804.5,407.5h-5 M94.5,414.5h10 M804.5,414.5h-10 M94.5,422.5h5 M804.5,422.5h-5 M94.5,430.5h5 M804.5,430.5h-5 M94.5,438.5h5 M804.5,438.5h-5 M94.5,446.5h5 M804.5,446.5h-5 M94.5,454.5h5 M804.5,454.5h-5 M94.5,462.5h5 M804.5,462.5h-5 M94.5,470.5h5 M804.5,470.5h-5 M94.5,478.5h5 M804.5,478.5h-5 M94.5,486.5h5 M804.5,486.5h-5 M94.5,494.5h10 M804.5,494.5h-10 M94.5,501.5h5 M804.5,501.5h-5 M94.5,509.5h5 M804.5,509.5h-5 M94.5,517.5h5 M804.5,517.5h-5 M94.5,525.5h5 M804.5,525.5h-5 M94.5,533.5h5 M804.5,533.5h-5 M94.5,541.5h5 M804.5,541.5h-5 M94.5,549.5h5 M804.5,549.5h-5 M94.5,557.5h5 M804.5,557.5h-5 M94.5,565.5h5 M804.5,565.5h-5 M94.5,572.5h10 M804.5,572.5h-10 M94.5,580.5h5 M804.5,580.5h-5 M94.5,588.5h5 M804.5,588.5h-5 M94.5,596.5h5 M804.5,596.5h-5 M94.5,604.5h5 M804.5,604.5h-5 M94.5,612.5h5 M804.5,612.5h-5 M94.5,620.5h5 M804.5,620.5h-5 M94.5,628.5h5 M804.5,628.5h-5 M94.5,636.5h5 M804.5,636.5h-5 M94.5,644.5h5 M804.5,644.5h-5 M94.5,652.5h10 M804.5,652.5h-10 M94.5,659.5h5 M804.5,659.5h-5 M94.5,667.5h5 M804.5,667.5h-5 M94.5,675.5h5 M804.5,675.5h-5 M94.5,683.5h5 M804.5,683.5h-5 M94.5,691.5h5 M804.5,691.5h-5 M94.5,699.5h5 M804.5,699.5h-5 M94.5,707.5h5 M804.5,707.5h-5 M94.5,715.5h5 M804.5,715.5h-5 M94.5,723.5h5 M804.5,723.5h-5 M94.5,730.5h10 M804.5,730.5h-10 M94.5,738.5h5 M804.5,738.5h-5 M94.5,746.5h5 M804.5,746.5h-5 M94.5,754.5h5 M804.5,754.5h-5 M94.5,762.5h5 M804.5,762.5h-5 M94.5,770.5h5 M804.5,770.5h-5 M94.5,778.5h5 M804.5,778.5h-5 M94.5,786.5h5 M804.5,786.5h-5 M94.5,794.5h5 M804.5,794.5h-5 M94.5,802.5h5 M804.5,802.5h-5 M119.5,98.5v5 M119.5,809.5v-5 M144.5,98.5v5 M144.5,809.5v-5 M169.5,98.5v5 M169.5,809.5v-5 M194.5,98.5v5 M194.5,809.5v-5 M219.5,98.5v5 M219.5,809.5v-5 M245.5,98.5v5 M245.5,809.5v-5 M270.5,98.5v5 M270.5,809.5v-5 M295.5,98.5v5 M295.5,809.5v-5 M320.5,98.5v5 M320.5,809.5v-5 M345.5,98.5v10 M345.5,809.5v-10 M370.5,98.5v5 M370.5,809.5v-5 M395.5,98.5v5 M395.5,809.5v-5 M420.5,98.5v5 M420.5,809.5v-5 M445.5,98.5v5 M445.5,809.5v-5 M470.5,98.5v5 M470.5,809.5v-5 M496.5,98.5v5 M496.5,809.5v-5 M521.5,98.5v5 M521.5,809.5v-5 M546.5,98.5v5 M546.5,809.5v-5 M571.5,98.5v5 M571.5,809.5v-5 M596.5,98.5v10 M596.5,809.5v-10 M621.5,98.5v5 M621.5,809.5v-5 M646.5,98.5v5 M646.5,809.5v-5 M671.5,98.5v5 M671.5,809.5v-5 M696.5,98.5v5 M696.5,809.5v-5 M721.5,98.5v5 M721.5,809.5v-5 M747.5,98.5v5 M747.5,809.5v-5 M772.5,98.5v5 M772.5,809.5v-5 M797.5,98.5v5 M797.5,809.5v-5 "/>
</g>
<g shape-rendering="crispEdges">
<rect x="836.5" y="98.5" width="14.0" height="65.0" fill="#406000" stroke="#000" stroke-width="1"/>
<rect x="836.5" y="163.5" width="14.0" height="64.0" fill="#008000" stroke="#000" stroke-width="1"/>
<rect x="836.5" y="227.5" width="14.0" height="65.0" fill="#00c000" stroke="#000" stroke-width="1"/>
<rect x="836.5" y="292.5" width="14.0" height="65.0" fill="#20ff20" stroke="#000" stroke-width="1"/>
<rect x="836.5" y="357.5" width="14.0" height="64.0" fill="#60ff60" stroke="#000" stroke-width="1"/>
<rect x="836.5" y="421.5" width="14.0" height="65.0" fill="#50ffa0" stroke="#000" stroke-width="1"/>
<rect x="836.5" y="486.5" width="14.0" height="64.0" fill="#60ffd0" stroke="#000" stroke-width="1"/>
<rect x="836.5" y="550.5" width="14.0" height="65.0" fill="#c8fff0" stroke="#000" stroke-width="1"/>
<rect x="836.5" y="615.5" width="14.0" height="65.0" fill="#fff" stroke="#000" stroke-width="1"/>
<rect x="836.5" y="680.5" width="14.0" height="64.0" fill="#fff" stroke="#000" stroke-width="1"/>
<rect x="836.5" y="744.5" width="14.0" height="65.0" fill="#fff" stroke="#000" stroke-width="1"/>
</g>
<g opacity="0.995">
<text x="5.0" y="18.0" font-family="Liberation Mono" font-size="18.8" fill="#000" stroke="#fff" stroke-width="0.30" textLength="277.5" lengthAdjust="spacingAndGlyphs">AMPS 2.67-km Peninsula WRF</text>
<text x="5.0" y="39.0" font-family="Liberation Mono" font-size="18.8" fill="#000" stroke="#fff" stroke-width="0.30" textLength="128.0" lengthAdjust="spacingAndGlyphs">Fcst:    3 h</text>
<text x="616.5" y="18.0" font-family="Liberation Mono" font-size="18.8" fill="#000" stroke="#fff" stroke-width="0.30" textLength="277.5" lengthAdjust="spacingAndGlyphs">Init: 12 UTC Fri 19 Dec 25</text>
<text x="605.5" y="39.0" font-family="Liberation Mono" font-size="18.8" fill="#000" stroke="#fff" stroke-width="0.30" textLength="288.5" lengthAdjust="spacingAndGlyphs">Valid: 15 UTC Fri 19 Dec 25</text>
<text x="10.0" y="58.5" font-family="Liberation Mono" font-size="18.0" fill="#000" stroke="#fff" stroke-width="0.30" textLength="294.0" lengthAdjust="spacingAndGlyphs">Relative humidity (w.r.t. ice)</text>
<text x="10.0" y="76.0" font-family="Liberation Mono" font-size="18.0" fill="#00008b" stroke="#fff" stroke-width="0.30" textLength="107.8" lengthAdjust="spacingAndGlyphs">Temperature</text>
<text x="10.0" y="94.8" font-family="Liberation Mono" font-size="18.0" fill="#000" stroke="#fff" stroke-width="0.30" textLength="225.4" lengthAdjust="spacingAndGlyphs">Horizontal wind vectors</text>
<text x="385.5" y="58.5" font-family="Liberation Mono" font-size="18.0" fill="#000" stroke="#fff" stroke-width="0.30" textLength="295.0" lengthAdjust="spacingAndGlyphs">XY= 570.1, 97.8 to 517.6,104.9</text>
<text x="385.5" y="76.0" font-family="Liberation Mono" font-size="18.0" fill="#00008b" stroke="#fff" stroke-width="0.30" textLength="295.0" lengthAdjust="spacingAndGlyphs">XY= 570.1, 97.8 to 517.6,104.9</text>
<text x="385.5" y="94.8" font-family="Liberation Mono" font-size="18.0" fill="#000" stroke="#fff" stroke-width="0.30" textLength="295.0" lengthAdjust="spacingAndGlyphs">XY= 570.1, 97.8 to 517.6,104.9</text>
<text x="78.5" y="103.3" font-family="Liberation Sans" font-size="13.5" fill="#000" stroke="#fff" stroke-width="0.20" text-anchor="end">100</text>
<text x="78.5" y="182.2" font-family="Liberation Sans" font-size="13.5" fill="#000" stroke="#fff" stroke-width="0.20" text-anchor="end">200</text>
<text x="78.5" y="261.2" font-family="Liberation Sans" font-size="13.5" fill="#000" stroke="#fff" stroke-width="0.20" text-anchor="end">300</text>
<text x="78.5" y="340.1" font-family="Liberation Sans" font-size="13.5" fill="#000" stroke="#fff" stroke-width="0.20" text-anchor="end">400</text>
<text x="78.5" y="419.1" font-family="Liberation Sans" font-size="13.5" fill="#000" stroke="#fff" stroke-width="0.20" text-anchor="end">500</text>
<text x="78.5" y="498.0" font-family="Liberation Sans" font-size="13.5" fill="#000" stroke="#fff" stroke-width="0.20" text-anchor="end">600</text>
<text x="78.5" y="576.9" font-family="Liberation Sans" font-size="13.5" fill="#000" stroke="#fff" stroke-width="0.20" text-anchor="end">700</text>
<text x="78.5" y="655.9" font-family="Liberation Sans" font-size="13.5" fill="#000" stroke="#fff" stroke-width="0.20" text-anchor="end">800</text>
<text x="78.5" y="734.8" font-family="Liberation Sans" font-size="13.5" fill="#000" stroke="#fff" stroke-width="0.20" text-anchor="end">900</text>
<text x="78.5" y="813.8" font-family="Liberation Sans" font-size="13.5" fill="#000" stroke="#fff" stroke-width="0.20" text-anchor="end">1000</text>
<text transform="translate(50,454.7) rotate(-90)" text-anchor="middle" font-family="Liberation Mono" font-size="16" stroke="#fff" stroke-width="0.3" textLength="124.5" lengthAdjust="spacingAndGlyphs">Pressure (hPa)</text>
<text x="94.3" y="827.5" font-family="Liberation Sans" font-size="13.5" fill="#000" stroke="#fff" stroke-width="0.20" text-anchor="middle">0</text>
<text x="345.3" y="827.5" font-family="Liberation Sans" font-size="13.5" fill="#000" stroke="#fff" stroke-width="0.20" text-anchor="middle">50</text>
<text x="596.4" y="827.5" font-family="Liberation Sans" font-size="13.5" fill="#000" stroke="#fff" stroke-width="0.20" text-anchor="middle">100</text>
<text x="99.4" y="846.0" font-family="Liberation Mono" font-size="16.5" fill="#000" stroke="#fff" stroke-width="0.30" textLength="16.8" lengthAdjust="spacingAndGlyphs">NW</text>
<text x="800.5" y="846.0" font-family="Liberation Mono" font-size="16.5" fill="#000" stroke="#fff" stroke-width="0.30" textLength="16.8" lengthAdjust="spacingAndGlyphs">SE</text>
<text x="390.0" y="844.7" font-family="Liberation Mono" font-size="15.8" fill="#000" stroke="#fff" stroke-width="0.30" textLength="117.0" lengthAdjust="spacingAndGlyphs">Distance (km)</text>
<text x="322.2" y="848.5" font-family="Liberation Serif" font-size="14.6" fill="#000" stroke="#fff" stroke-width="0.12" textLength="254.0" lengthAdjust="spacingAndGlyphs" font-weight="bold">BARB VECTORS: FULL BARB = 10 kts</text>
<text x="150.8" y="862.0" font-family="Liberation Serif" font-size="13.6" fill="#00008b" stroke="#fff" stroke-width="0.12" textLength="72.0" lengthAdjust="spacingAndGlyphs" font-weight="bold">CONTOURS:</text>
<text x="237.0" y="862.0" font-family="Liberation Serif" font-size="13.6" fill="#00008b" stroke="#fff" stroke-width="0.12" textLength="61.0" lengthAdjust="spacingAndGlyphs" font-weight="bold">UNITS=°C</text>
<text x="311.7" y="862.0" font-family="Liberation Serif" font-size="13.6" fill="#00008b" stroke="#fff" stroke-width="0.12" textLength="95.3" lengthAdjust="spacingAndGlyphs" font-weight="bold">LOW= −52.000</text>
<text x="446.7" y="862.0" font-family="Liberation Serif" font-size="13.6" fill="#00008b" stroke="#fff" stroke-width="0.12" textLength="103.0" lengthAdjust="spacingAndGlyphs" font-weight="bold">HIGH= −4.0000</text>
<text x="589.4" y="862.0" font-family="Liberation Serif" font-size="13.6" fill="#00008b" stroke="#fff" stroke-width="0.12" textLength="69.6" lengthAdjust="spacingAndGlyphs" font-weight="bold">INTERVAL=</text>
<text x="680.3" y="862.0" font-family="Liberation Serif" font-size="13.6" fill="#00008b" stroke="#fff" stroke-width="0.12" textLength="42.5" lengthAdjust="spacingAndGlyphs" font-weight="bold">4.0000</text>
<text x="90.5" y="878.0" font-family="Liberation Mono" font-size="16.5" fill="#000" stroke="#fff" stroke-width="0.30" textLength="143.5" lengthAdjust="spacingAndGlyphs">Model Info: V4.3.3</text>
<text x="260.5" y="878.0" font-family="Liberation Mono" font-size="16.5" fill="#000" stroke="#fff" stroke-width="0.30" textLength="39.0" lengthAdjust="spacingAndGlyphs">No Cu</text>
<text x="325.0" y="878.0" font-family="Liberation Mono" font-size="16.5" fill="#000" stroke="#fff" stroke-width="0.30" textLength="136.0" lengthAdjust="spacingAndGlyphs">MYJ PBL  Morrison</text>
<text x="575.5" y="878.0" font-family="Liberation Mono" font-size="16.5" fill="#000" stroke="#fff" stroke-width="0.30" textLength="150.0" lengthAdjust="spacingAndGlyphs">2.7 km,  60 levels,</text>
<text x="260.5" y="893.3" font-family="Liberation Mono" font-size="16.5" fill="#000" stroke="#fff" stroke-width="0.30" textLength="378.0" lengthAdjust="spacingAndGlyphs">LW: RRTM SW: RRTMG   DIFF: simple KM: 2D Smagor</text>
<text x="862.3" y="105.5" font-family="Liberation Sans" font-size="19.0" fill="#000" stroke="#fff" stroke-width="0.20" textLength="8.2" lengthAdjust="spacingAndGlyphs">%</text>
<text x="861.3" y="169.3" font-family="Liberation Sans" font-size="17.3" fill="#000" stroke="#fff" stroke-width="0.20" textLength="30.0" lengthAdjust="spacingAndGlyphs">100</text>
<text x="861.3" y="234.0" font-family="Liberation Sans" font-size="17.3" fill="#000" stroke="#fff" stroke-width="0.20" textLength="19.8" lengthAdjust="spacingAndGlyphs">90</text>
<text x="861.3" y="298.6" font-family="Liberation Sans" font-size="17.3" fill="#000" stroke="#fff" stroke-width="0.20" textLength="19.8" lengthAdjust="spacingAndGlyphs">80</text>
<text x="861.3" y="363.2" font-family="Liberation Sans" font-size="17.3" fill="#000" stroke="#fff" stroke-width="0.20" textLength="19.8" lengthAdjust="spacingAndGlyphs">70</text>
<text x="861.3" y="427.8" font-family="Liberation Sans" font-size="17.3" fill="#000" stroke="#fff" stroke-width="0.20" textLength="19.8" lengthAdjust="spacingAndGlyphs">60</text>
<text x="861.3" y="492.5" font-family="Liberation Sans" font-size="17.3" fill="#000" stroke="#fff" stroke-width="0.20" textLength="19.8" lengthAdjust="spacingAndGlyphs">50</text>
<text x="861.3" y="557.1" font-family="Liberation Sans" font-size="17.3" fill="#000" stroke="#fff" stroke-width="0.20" textLength="19.8" lengthAdjust="spacingAndGlyphs">40</text>
<text x="861.3" y="621.7" font-family="Liberation Sans" font-size="17.3" fill="#000" stroke="#fff" stroke-width="0.20" textLength="19.8" lengthAdjust="spacingAndGlyphs">30</text>
<text x="861.3" y="686.4" font-family="Liberation Sans" font-size="17.3" fill="#000" stroke="#fff" stroke-width="0.20" textLength="19.8" lengthAdjust="spacingAndGlyphs">20</text>
<text x="861.3" y="751.0" font-family="Liberation Sans" font-size="17.3" fill="#000" stroke="#fff" stroke-width="0.20" textLength="19.8" lengthAdjust="spacingAndGlyphs">10</text>
<rect x="437.5" y="184.5" width="39.0" height="21.0" fill="none" stroke="#00008b" stroke-width="1" shape-rendering="crispEdges"/><text x="457.1" y="200.6" font-family="Liberation Sans" font-size="16.0" fill="#00008b" text-anchor="middle" textLength="29.7" lengthAdjust="spacingAndGlyphs">−48</text>
<rect x="705.5" y="186.5" width="39.0" height="22.0" fill="none" stroke="#00008b" stroke-width="1" shape-rendering="crispEdges"/><text x="725.1" y="202.1" font-family="Liberation Sans" font-size="16.0" fill="#00008b" text-anchor="middle" textLength="29.7" lengthAdjust="spacingAndGlyphs">−48</text>
<rect x="122.5" y="409.5" width="39.0" height="21.0" fill="none" stroke="#00008b" stroke-width="1" shape-rendering="crispEdges"/><text x="141.8" y="425.6" font-family="Liberation Sans" font-size="16.0" fill="#00008b" text-anchor="middle" textLength="29.7" lengthAdjust="spacingAndGlyphs">−32</text>
<rect x="243.5" y="409.5" width="37.0" height="21.0" fill="none" stroke="#00008b" stroke-width="1" shape-rendering="crispEdges"/><text x="262.5" y="425.6" font-family="Liberation Sans" font-size="16.0" fill="#00008b" text-anchor="middle" textLength="28.4" lengthAdjust="spacingAndGlyphs">−32</text>
<rect x="758.5" y="411.5" width="39.0" height="21.0" fill="none" stroke="#00008b" stroke-width="1" shape-rendering="crispEdges"/><text x="777.9" y="427.2" font-family="Liberation Sans" font-size="16.0" fill="#00008b" text-anchor="middle" textLength="29.7" lengthAdjust="spacingAndGlyphs">−32</text>
<rect x="115.5" y="560.5" width="38.0" height="22.0" fill="none" stroke="#00008b" stroke-width="1" shape-rendering="crispEdges"/><text x="134.9" y="576.6" font-family="Liberation Sans" font-size="16.0" fill="#00008b" text-anchor="middle" textLength="29.2" lengthAdjust="spacingAndGlyphs">−16</text>
<rect x="263.5" y="560.5" width="37.0" height="21.0" fill="none" stroke="#00008b" stroke-width="1" shape-rendering="crispEdges"/><text x="282.5" y="575.6" font-family="Liberation Sans" font-size="16.0" fill="#00008b" text-anchor="middle" textLength="28.4" lengthAdjust="spacingAndGlyphs">−16</text>
<rect x="732.5" y="560.5" width="38.0" height="21.0" fill="none" stroke="#00008b" stroke-width="1" shape-rendering="crispEdges"/><text x="751.2" y="575.6" font-family="Liberation Sans" font-size="16.0" fill="#00008b" text-anchor="middle" textLength="28.5" lengthAdjust="spacingAndGlyphs">−16</text>
<text x="150.0" y="248.0" font-family="Liberation Sans" font-size="17.5" fill="#00008b">L</text>
<text x="138.3" y="271.0" font-family="Liberation Sans" font-size="17.8" fill="#00008b" textLength="61.5" lengthAdjust="spacingAndGlyphs">−54.76</text>
<text x="444.7" y="248.0" font-family="Liberation Sans" font-size="17.5" fill="#00008b">L</text>
<text x="432.7" y="271.0" font-family="Liberation Sans" font-size="17.8" fill="#00008b" textLength="61.5" lengthAdjust="spacingAndGlyphs">−54.86</text>
<text x="752.5" y="248.0" font-family="Liberation Sans" font-size="17.5" fill="#00008b">L</text>
<text x="741.7" y="271.0" font-family="Liberation Sans" font-size="17.8" fill="#00008b" textLength="61.5" lengthAdjust="spacingAndGlyphs">−54.63</text>
</g>
</svg></body></html>
